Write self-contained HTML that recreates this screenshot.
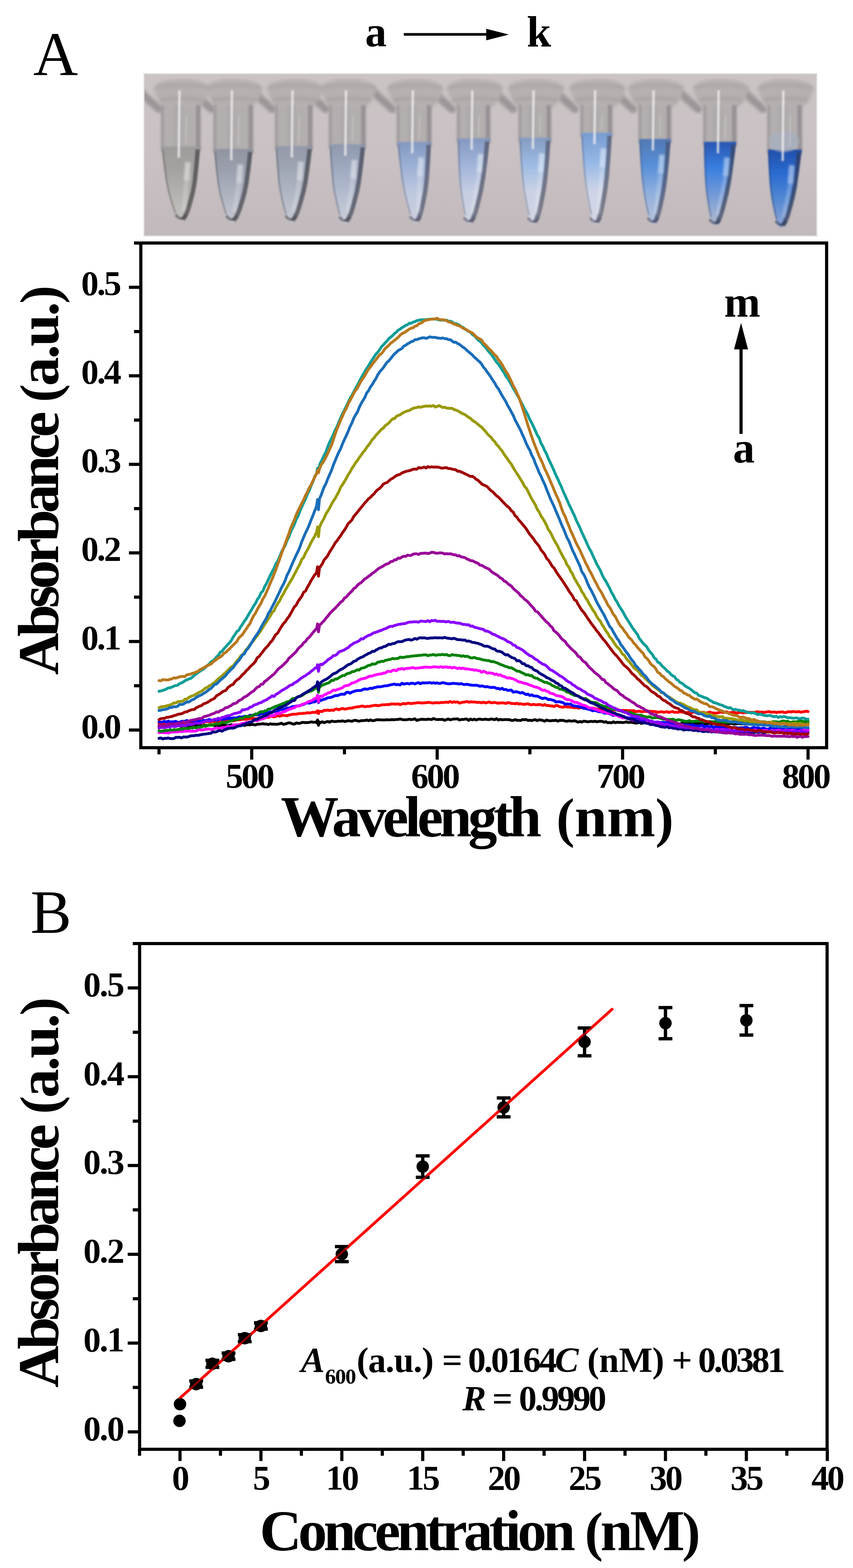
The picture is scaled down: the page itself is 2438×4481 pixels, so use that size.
<!DOCTYPE html>
<html><head><meta charset="utf-8"><title>Figure</title>
<style>html,body{margin:0;padding:0;background:#fff}svg{display:block}text{font-family:'Liberation Serif', serif}</style>
</head><body>
<svg width="2438" height="4481" viewBox="0 0 2438 4481">
<rect width="2438" height="4481" fill="#fff"/>
<defs>
<clipPath id="pc"><rect x="413" y="212" width="1920" height="461"/></clipPath>
<filter id="bl2" x="-20%" y="-20%" width="140%" height="140%"><feGaussianBlur stdDeviation="2"/></filter>
<filter id="bl3" x="-20%" y="-20%" width="140%" height="140%"><feGaussianBlur stdDeviation="3"/></filter>
<filter id="bl5" x="-30%" y="-30%" width="160%" height="160%"><feGaussianBlur stdDeviation="5"/></filter>
<filter id="bl8" x="-30%" y="-30%" width="160%" height="160%"><feGaussianBlur stdDeviation="8"/></filter>
<linearGradient id="pbg" x1="0" y1="0" x2="0" y2="1"><stop offset="0" stop-color="#cbc4c5"/><stop offset="0.5" stop-color="#c9c1c3"/><stop offset="1" stop-color="#c1b9bb"/></linearGradient>
<linearGradient id="lg0" x1="0" y1="0" x2="0" y2="1"><stop offset="0" stop-color="#9f9d9c"/><stop offset="0.3" stop-color="#a4a2a0"/><stop offset="0.62" stop-color="#b4b1af"/><stop offset="1" stop-color="#c5c2bf"/></linearGradient>
<linearGradient id="lg1" x1="0" y1="0" x2="0" y2="1"><stop offset="0" stop-color="#9295a2"/><stop offset="0.3" stop-color="#9ca1af"/><stop offset="0.62" stop-color="#aeb3c0"/><stop offset="1" stop-color="#c5c6cf"/></linearGradient>
<linearGradient id="lg2" x1="0" y1="0" x2="0" y2="1"><stop offset="0" stop-color="#949aa9"/><stop offset="0.3" stop-color="#9fa6b4"/><stop offset="0.62" stop-color="#b1b7c5"/><stop offset="1" stop-color="#c6c8d0"/></linearGradient>
<linearGradient id="lg3" x1="0" y1="0" x2="0" y2="1"><stop offset="0" stop-color="#909aaf"/><stop offset="0.3" stop-color="#9fa9c0"/><stop offset="0.62" stop-color="#b4bdcf"/><stop offset="1" stop-color="#cacdd7"/></linearGradient>
<linearGradient id="lg4" x1="0" y1="0" x2="0" y2="1"><stop offset="0" stop-color="#859ac2"/><stop offset="0.3" stop-color="#9db1d5"/><stop offset="0.62" stop-color="#bec8df"/><stop offset="1" stop-color="#cdd0df"/></linearGradient>
<linearGradient id="lg5" x1="0" y1="0" x2="0" y2="1"><stop offset="0" stop-color="#859ac2"/><stop offset="0.3" stop-color="#a1b4da"/><stop offset="0.62" stop-color="#c5cde2"/><stop offset="1" stop-color="#d0d4e1"/></linearGradient>
<linearGradient id="lg6" x1="0" y1="0" x2="0" y2="1"><stop offset="0" stop-color="#869dc2"/><stop offset="0.3" stop-color="#9dbbe4"/><stop offset="0.62" stop-color="#cbd2e4"/><stop offset="1" stop-color="#d2d4e2"/></linearGradient>
<linearGradient id="lg7" x1="0" y1="0" x2="0" y2="1"><stop offset="0" stop-color="#799dd2"/><stop offset="0.3" stop-color="#94b6e6"/><stop offset="0.62" stop-color="#cdd4e7"/><stop offset="1" stop-color="#d4d6e6"/></linearGradient>
<linearGradient id="lg8" x1="0" y1="0" x2="0" y2="1"><stop offset="0" stop-color="#5179b5"/><stop offset="0.3" stop-color="#578fd8"/><stop offset="0.62" stop-color="#8fafde"/><stop offset="1" stop-color="#bcc4da"/></linearGradient>
<linearGradient id="lg9" x1="0" y1="0" x2="0" y2="1"><stop offset="0" stop-color="#2a59b3"/><stop offset="0.3" stop-color="#397ee0"/><stop offset="0.62" stop-color="#739ad8"/><stop offset="1" stop-color="#b5bccf"/></linearGradient>
<linearGradient id="lg10" x1="0" y1="0" x2="0" y2="1"><stop offset="0" stop-color="#2251ab"/><stop offset="0.3" stop-color="#2a6bd1"/><stop offset="0.62" stop-color="#5188d3"/><stop offset="1" stop-color="#91a6d3"/></linearGradient>
</defs>
<rect x="411.5" y="210.5" width="1923" height="464" fill="none" stroke="#e3dfdf" stroke-width="3"/>
<g clip-path="url(#pc)">
<rect x="413" y="212" width="1920" height="461" fill="url(#pbg)"/>
<g filter="url(#bl5)" fill="none" stroke="#8f8a8b" stroke-linecap="round" opacity="0.8">
<path d="M399,262 L455,312" stroke-width="22"/>
<path d="M549,262 L605,312" stroke-width="22"/>
<path d="M722,262 L778,312" stroke-width="22"/>
<path d="M875,262 L931,312" stroke-width="22"/>
<path d="M1066,262 L1122,312" stroke-width="22"/>
<path d="M1236,262 L1292,312" stroke-width="22"/>
<path d="M1411,262 L1467,312" stroke-width="22"/>
<path d="M1587,262 L1643,312" stroke-width="22"/>
<path d="M1754,262 L1810,312" stroke-width="22"/>
<path d="M1940,262 L1996,312" stroke-width="22"/>
<path d="M2125,262 L2181,312" stroke-width="22"/>
</g>
<g filter="url(#bl5)">
<path d="M439,252 Q451,226 517,226 Q587,226 601,252 L589,284 L571,306 L463,306 L451,284 Z" fill="#b6b0af"/>
<path d="M443,250 Q517,238 597,250" fill="none" stroke="#a7a1a1" stroke-width="6"/>
<path d="M457,286 Q517,276 583,286" fill="none" stroke="#a39d9e" stroke-width="6"/>
<path d="M589,252 Q601,226 667,226 Q737,226 751,252 L739,284 L721,306 L613,306 L601,284 Z" fill="#b6b0af"/>
<path d="M593,250 Q667,238 747,250" fill="none" stroke="#a7a1a1" stroke-width="6"/>
<path d="M607,286 Q667,276 733,286" fill="none" stroke="#a39d9e" stroke-width="6"/>
<path d="M762,252 Q774,226 840,226 Q910,226 924,252 L912,284 L894,306 L786,306 L774,284 Z" fill="#b6b0af"/>
<path d="M766,250 Q840,238 920,250" fill="none" stroke="#a7a1a1" stroke-width="6"/>
<path d="M780,286 Q840,276 906,286" fill="none" stroke="#a39d9e" stroke-width="6"/>
<path d="M915,252 Q927,226 993,226 Q1063,226 1077,252 L1065,284 L1047,306 L939,306 L927,284 Z" fill="#b6b0af"/>
<path d="M919,250 Q993,238 1073,250" fill="none" stroke="#a7a1a1" stroke-width="6"/>
<path d="M933,286 Q993,276 1059,286" fill="none" stroke="#a39d9e" stroke-width="6"/>
<path d="M1106,252 Q1118,226 1184,226 Q1254,226 1268,252 L1256,284 L1238,306 L1130,306 L1118,284 Z" fill="#b6b0af"/>
<path d="M1110,250 Q1184,238 1264,250" fill="none" stroke="#a7a1a1" stroke-width="6"/>
<path d="M1124,286 Q1184,276 1250,286" fill="none" stroke="#a39d9e" stroke-width="6"/>
<path d="M1276,252 Q1288,226 1354,226 Q1424,226 1438,252 L1426,284 L1408,306 L1300,306 L1288,284 Z" fill="#b6b0af"/>
<path d="M1280,250 Q1354,238 1434,250" fill="none" stroke="#a7a1a1" stroke-width="6"/>
<path d="M1294,286 Q1354,276 1420,286" fill="none" stroke="#a39d9e" stroke-width="6"/>
<path d="M1451,252 Q1463,226 1529,226 Q1599,226 1613,252 L1601,284 L1583,306 L1475,306 L1463,284 Z" fill="#b6b0af"/>
<path d="M1455,250 Q1529,238 1609,250" fill="none" stroke="#a7a1a1" stroke-width="6"/>
<path d="M1469,286 Q1529,276 1595,286" fill="none" stroke="#a39d9e" stroke-width="6"/>
<path d="M1627,252 Q1639,226 1705,226 Q1775,226 1789,252 L1777,284 L1759,306 L1651,306 L1639,284 Z" fill="#b6b0af"/>
<path d="M1631,250 Q1705,238 1785,250" fill="none" stroke="#a7a1a1" stroke-width="6"/>
<path d="M1645,286 Q1705,276 1771,286" fill="none" stroke="#a39d9e" stroke-width="6"/>
<path d="M1794,252 Q1806,226 1872,226 Q1942,226 1956,252 L1944,284 L1926,306 L1818,306 L1806,284 Z" fill="#b6b0af"/>
<path d="M1798,250 Q1872,238 1952,250" fill="none" stroke="#a7a1a1" stroke-width="6"/>
<path d="M1812,286 Q1872,276 1938,286" fill="none" stroke="#a39d9e" stroke-width="6"/>
<path d="M1980,252 Q1992,226 2058,226 Q2128,226 2142,252 L2130,284 L2112,306 L2004,306 L1992,284 Z" fill="#b6b0af"/>
<path d="M1984,250 Q2058,238 2138,250" fill="none" stroke="#a7a1a1" stroke-width="6"/>
<path d="M1998,286 Q2058,276 2124,286" fill="none" stroke="#a39d9e" stroke-width="6"/>
<path d="M2165,252 Q2177,226 2243,226 Q2313,226 2327,252 L2315,284 L2297,306 L2189,306 L2177,284 Z" fill="#b6b0af"/>
<path d="M2169,250 Q2243,238 2323,250" fill="none" stroke="#a7a1a1" stroke-width="6"/>
<path d="M2183,286 Q2243,276 2309,286" fill="none" stroke="#a39d9e" stroke-width="6"/>
</g>
<g filter="url(#bl3)">
<rect x="460" y="300" width="114" height="131" fill="#b4afaf"/>
<rect x="460" y="300" width="8" height="131" fill="#8f8a8d" opacity="0.6"/>
<rect x="560" y="300" width="13" height="131" fill="#858087" opacity="0.65"/>
<rect x="497" y="300" width="26" height="131" fill="#aaa5a6" opacity="0.6"/>
<rect x="610" y="300" width="114" height="138" fill="#b4afaf"/>
<rect x="610" y="300" width="8" height="138" fill="#8f8a8d" opacity="0.6"/>
<rect x="710" y="300" width="13" height="138" fill="#858087" opacity="0.65"/>
<rect x="647" y="300" width="26" height="138" fill="#aaa5a6" opacity="0.6"/>
<rect x="786" y="300" width="108" height="130" fill="#b4afaf"/>
<rect x="786" y="300" width="8" height="130" fill="#8f8a8d" opacity="0.6"/>
<rect x="880" y="300" width="13" height="130" fill="#858087" opacity="0.65"/>
<rect x="820" y="300" width="26" height="130" fill="#aaa5a6" opacity="0.6"/>
<rect x="940" y="300" width="106" height="125" fill="#b4afaf"/>
<rect x="940" y="300" width="8" height="125" fill="#8f8a8d" opacity="0.6"/>
<rect x="1032" y="300" width="13" height="125" fill="#858087" opacity="0.65"/>
<rect x="973" y="300" width="26" height="125" fill="#aaa5a6" opacity="0.6"/>
<rect x="1134" y="300" width="100" height="118" fill="#b4afaf"/>
<rect x="1134" y="300" width="8" height="118" fill="#8f8a8d" opacity="0.6"/>
<rect x="1220" y="300" width="13" height="118" fill="#858087" opacity="0.65"/>
<rect x="1164" y="300" width="26" height="118" fill="#aaa5a6" opacity="0.6"/>
<rect x="1306" y="300" width="96" height="108" fill="#b4afaf"/>
<rect x="1306" y="300" width="8" height="108" fill="#8f8a8d" opacity="0.6"/>
<rect x="1388" y="300" width="13" height="108" fill="#858087" opacity="0.65"/>
<rect x="1334" y="300" width="26" height="108" fill="#aaa5a6" opacity="0.6"/>
<rect x="1482" y="300" width="94" height="106" fill="#b4afaf"/>
<rect x="1482" y="300" width="8" height="106" fill="#8f8a8d" opacity="0.6"/>
<rect x="1562" y="300" width="13" height="106" fill="#858087" opacity="0.65"/>
<rect x="1509" y="300" width="26" height="106" fill="#aaa5a6" opacity="0.6"/>
<rect x="1659" y="300" width="92" height="92" fill="#b4afaf"/>
<rect x="1659" y="300" width="8" height="92" fill="#8f8a8d" opacity="0.6"/>
<rect x="1737" y="300" width="13" height="92" fill="#858087" opacity="0.65"/>
<rect x="1685" y="300" width="26" height="92" fill="#aaa5a6" opacity="0.6"/>
<rect x="1825" y="300" width="94" height="110" fill="#b4afaf"/>
<rect x="1825" y="300" width="8" height="110" fill="#8f8a8d" opacity="0.6"/>
<rect x="1905" y="300" width="13" height="110" fill="#858087" opacity="0.65"/>
<rect x="1852" y="300" width="26" height="110" fill="#aaa5a6" opacity="0.6"/>
<rect x="2010" y="300" width="96" height="118" fill="#b4afaf"/>
<rect x="2010" y="300" width="8" height="118" fill="#8f8a8d" opacity="0.6"/>
<rect x="2092" y="300" width="13" height="118" fill="#858087" opacity="0.65"/>
<rect x="2038" y="300" width="26" height="118" fill="#aaa5a6" opacity="0.6"/>
<rect x="2193" y="300" width="100" height="140" fill="#b4afaf"/>
<rect x="2193" y="300" width="8" height="140" fill="#8f8a8d" opacity="0.6"/>
<rect x="2279" y="300" width="13" height="140" fill="#858087" opacity="0.65"/>
<rect x="2223" y="300" width="26" height="140" fill="#aaa5a6" opacity="0.6"/>
</g>
<g filter="url(#bl2)">
<path d="M572.0,421.0 L569.8,446.4 L566.5,474.0 L560.5,518.5 L554.4,548.2 L547.2,573.6 L540.6,594.8 L535.1,609.7 L529.1,622.4 L523.0,629.8 L517.0,633.0 L517.0,633.0 L510.9,629.8 L504.9,622.4 L498.9,609.7 L493.4,594.8 L486.8,573.6 L479.6,548.2 L473.6,518.5 L467.5,474.0 L464.2,446.4 L462.0,421.0 Z" fill="url(#lg0)"/>
<path d="M532,613 Q518,636 502,613" fill="none" stroke="#4a4849" stroke-width="8" opacity="0.6"/>
<path d="M565.0,421.0 L563.6,446.0 L561.2,473.0 L556.7,516.7 L551.6,545.8 L545.3,570.8 L539.4,591.6 L534.4,606.1 L528.8,618.6 L522.9,625.9 L522,628" fill="none" stroke="#4a4849" stroke-width="13" stroke-linejoin="round" opacity="0.75"/>
<path d="M465.0,421.0 L467.2,446.4 L470.5,474.0 L476.6,518.5 L482.6,548.2 L489.8,573.6 L496.4,594.8 L501.9,609.7" fill="none" stroke="#4a4849" stroke-width="4" opacity="0.45"/>
<rect x="462" y="418" width="110" height="9" fill="#9f9d9c" opacity="0.9"/>
<path d="M722.0,428.0 L719.2,453.0 L715.2,480.0 L708.2,523.7 L701.4,552.8 L693.6,577.8 L686.5,598.6 L680.7,613.1 L674.4,625.6 L668.1,632.9 L662.0,636.0 L662.0,636.0 L656.0,632.9 L650.1,625.6 L644.4,613.1 L639.2,598.6 L633.1,577.8 L626.6,552.8 L621.2,523.7 L616.2,480.0 L613.6,453.0 L612.0,428.0 Z" fill="url(#lg1)"/>
<path d="M677,616 Q663,639 647,616" fill="none" stroke="#484a52" stroke-width="8" opacity="0.6"/>
<path d="M715.0,428.0 L713.0,452.5 L710.0,479.0 L704.4,521.8 L698.6,550.4 L691.7,574.9 L685.3,595.3 L679.9,609.6 L674.0,621.8 L668.0,628.9 L667,631" fill="none" stroke="#484a52" stroke-width="13" stroke-linejoin="round" opacity="0.75"/>
<path d="M615.0,428.0 L616.6,453.0 L619.2,480.0 L624.2,523.7 L629.6,552.8 L636.1,577.8 L642.2,598.6 L647.4,613.1" fill="none" stroke="#484a52" stroke-width="4" opacity="0.45"/>
<rect x="612" y="425" width="110" height="9" fill="#9295a2" opacity="0.9"/>
<path d="M892.0,420.0 L888.8,445.9 L884.5,474.0 L876.9,519.4 L870.0,549.6 L862.1,575.5 L855.0,597.1 L849.1,612.2 L842.9,625.2 L836.9,632.8 L831.0,636.0 L831.0,636.0 L825.4,632.8 L820.0,625.2 L814.8,612.2 L810.3,597.1 L804.9,575.5 L799.2,549.6 L794.8,519.4 L791.0,474.0 L789.0,445.9 L788.0,420.0 Z" fill="url(#lg2)"/>
<path d="M846,616 Q832,639 816,616" fill="none" stroke="#484a52" stroke-width="8" opacity="0.6"/>
<path d="M885.0,420.0 L882.7,445.4 L879.3,473.0 L873.2,517.5 L867.2,547.2 L860.2,572.6 L853.7,593.8 L848.4,608.7 L842.5,621.4 L836.8,628.8 L836,631" fill="none" stroke="#484a52" stroke-width="13" stroke-linejoin="round" opacity="0.75"/>
<path d="M791.0,420.0 L792.0,445.9 L794.0,474.0 L797.8,519.4 L802.2,549.6 L807.9,575.5 L813.3,597.1 L817.8,612.2" fill="none" stroke="#484a52" stroke-width="4" opacity="0.45"/>
<rect x="788" y="417" width="104" height="9" fill="#949aa9" opacity="0.9"/>
<path d="M1044.0,415.0 L1041.0,441.9 L1036.9,471.0 L1029.6,518.0 L1022.9,549.4 L1015.3,576.3 L1008.4,598.7 L1002.7,614.4 L996.6,627.8 L990.7,635.6 L985.0,639.0 L985.0,639.0 L979.5,635.6 L974.2,627.8 L969.0,614.4 L964.5,598.7 L959.2,576.3 L953.5,549.4 L949.0,518.0 L945.1,471.0 L943.1,441.9 L942.0,415.0 Z" fill="url(#lg3)"/>
<path d="M1000,619 Q986,642 970,619" fill="none" stroke="#464a58" stroke-width="8" opacity="0.6"/>
<path d="M1037.0,415.0 L1034.8,441.4 L1031.7,470.0 L1025.8,516.2 L1020.1,547.0 L1013.3,573.4 L1007.1,595.4 L1001.9,610.8 L996.3,624.0 L990.6,631.7 L990,634" fill="none" stroke="#464a58" stroke-width="13" stroke-linejoin="round" opacity="0.75"/>
<path d="M945.0,415.0 L946.1,441.9 L948.1,471.0 L952.0,518.0 L956.5,549.4 L962.2,576.3 L967.5,598.7 L972.0,614.4" fill="none" stroke="#464a58" stroke-width="4" opacity="0.45"/>
<rect x="942" y="412" width="102" height="9" fill="#909aaf" opacity="0.9"/>
<path d="M1232.0,408.0 L1230.4,435.6 L1228.0,465.5 L1223.3,513.8 L1218.4,546.0 L1212.6,573.6 L1207.1,596.6 L1202.5,612.7 L1197.4,626.5 L1192.2,634.5 L1187.0,638.0 L1187.0,638.0 L1181.7,634.5 L1176.3,626.5 L1170.8,612.7 L1165.8,596.6 L1159.8,573.6 L1153.2,546.0 L1147.5,513.8 L1141.5,465.5 L1138.3,435.6 L1136.0,408.0 Z" fill="url(#lg4)"/>
<path d="M1202,618 Q1188,641 1172,618" fill="none" stroke="#52566a" stroke-width="8" opacity="0.6"/>
<path d="M1225.0,408.0 L1224.3,435.1 L1222.7,464.5 L1219.5,512.0 L1215.6,543.6 L1210.6,570.7 L1205.8,593.3 L1201.7,609.1 L1197.1,622.7 L1192.1,630.6 L1192,633" fill="none" stroke="#52566a" stroke-width="13" stroke-linejoin="round" opacity="0.75"/>
<path d="M1139.0,408.0 L1141.3,435.6 L1144.5,465.5 L1150.5,513.8 L1156.2,546.0 L1162.8,573.6 L1168.8,596.6 L1173.8,612.7" fill="none" stroke="#52566a" stroke-width="4" opacity="0.45"/>
<rect x="1136" y="405" width="96" height="9" fill="#859ac2" opacity="0.9"/>
<path d="M1400.0,398.0 L1396.6,427.2 L1392.2,458.8 L1384.4,509.8 L1377.5,543.8 L1369.9,573.0 L1363.1,597.3 L1357.6,614.3 L1351.8,628.9 L1346.3,637.4 L1341.0,641.0 L1341.0,641.0 L1336.1,637.4 L1331.5,628.9 L1327.2,614.3 L1323.6,597.3 L1319.3,573.0 L1314.9,543.8 L1311.7,509.8 L1309.3,458.8 L1308.3,427.2 L1308.0,398.0 Z" fill="url(#lg5)"/>
<path d="M1356,621 Q1342,644 1326,621" fill="none" stroke="#52566a" stroke-width="8" opacity="0.6"/>
<path d="M1393.0,398.0 L1390.4,426.7 L1386.9,457.8 L1380.6,507.9 L1374.7,541.4 L1368.0,570.1 L1361.9,594.0 L1356.8,610.7 L1351.4,625.1 L1346.1,633.4 L1346,636" fill="none" stroke="#52566a" stroke-width="13" stroke-linejoin="round" opacity="0.75"/>
<path d="M1311.0,398.0 L1311.3,427.2 L1312.3,458.8 L1314.7,509.8 L1317.9,543.8 L1322.3,573.0 L1326.6,597.3 L1330.2,614.3" fill="none" stroke="#52566a" stroke-width="4" opacity="0.45"/>
<rect x="1308" y="395" width="92" height="9" fill="#859ac2" opacity="0.9"/>
<path d="M1574.0,396.0 L1571.6,425.5 L1568.2,457.5 L1562.2,509.2 L1556.6,543.6 L1550.2,573.1 L1544.2,597.7 L1539.4,614.9 L1534.2,629.7 L1529.0,638.3 L1524.0,642.0 L1524.0,642.0 L1519.1,638.3 L1514.3,629.7 L1509.7,614.9 L1505.6,597.7 L1500.7,573.1 L1495.4,543.6 L1491.2,509.2 L1487.2,457.5 L1485.2,425.5 L1484.0,396.0 Z" fill="url(#lg6)"/>
<path d="M1539,622 Q1525,645 1509,622" fill="none" stroke="#565a6e" stroke-width="8" opacity="0.6"/>
<path d="M1567.0,396.0 L1565.4,425.0 L1563.0,456.5 L1558.5,507.3 L1553.8,541.2 L1548.2,570.2 L1543.0,594.4 L1538.6,611.4 L1533.8,625.9 L1528.9,634.4 L1529,637" fill="none" stroke="#565a6e" stroke-width="13" stroke-linejoin="round" opacity="0.75"/>
<path d="M1487.0,396.0 L1488.2,425.5 L1490.2,457.5 L1494.2,509.2 L1498.4,543.6 L1503.7,573.1 L1508.6,597.7 L1512.7,614.9" fill="none" stroke="#565a6e" stroke-width="4" opacity="0.45"/>
<rect x="1484" y="393" width="90" height="9" fill="#869dc2" opacity="0.9"/>
<path d="M1749.0,382.0 L1746.9,413.2 L1743.8,447.0 L1738.4,501.6 L1733.1,538.0 L1727.0,569.2 L1721.5,595.2 L1716.8,613.4 L1711.8,629.0 L1706.9,638.1 L1702.0,642.0 L1702.0,642.0 L1697.2,638.1 L1692.5,629.0 L1687.8,613.4 L1683.6,595.2 L1678.6,569.2 L1673.3,538.0 L1668.9,501.6 L1664.7,447.0 L1662.4,413.2 L1661.0,382.0 Z" fill="url(#lg7)"/>
<path d="M1717,622 Q1703,645 1687,622" fill="none" stroke="#565a6e" stroke-width="8" opacity="0.6"/>
<path d="M1742.0,382.0 L1740.7,412.7 L1738.6,446.0 L1734.6,499.8 L1730.3,535.6 L1725.1,566.3 L1720.2,591.9 L1716.1,609.8 L1711.5,625.2 L1706.8,634.2 L1707,637" fill="none" stroke="#565a6e" stroke-width="13" stroke-linejoin="round" opacity="0.75"/>
<path d="M1664.0,382.0 L1665.4,413.2 L1667.7,447.0 L1671.9,501.6 L1676.3,538.0 L1681.6,569.2 L1686.6,595.2 L1690.8,613.4" fill="none" stroke="#565a6e" stroke-width="4" opacity="0.45"/>
<rect x="1661" y="379" width="88" height="9" fill="#799dd2" opacity="0.9"/>
<path d="M1917.0,400.0 L1914.5,429.0 L1911.0,460.5 L1904.8,511.3 L1899.0,545.2 L1892.4,574.2 L1886.4,598.4 L1881.5,615.4 L1876.2,629.9 L1871.0,638.4 L1866.0,642.0 L1866.0,642.0 L1861.1,638.4 L1856.4,629.9 L1851.8,615.4 L1847.7,598.4 L1842.9,574.2 L1837.8,545.2 L1833.7,511.3 L1830.0,460.5 L1828.1,429.0 L1827.0,400.0 Z" fill="url(#lg8)"/>
<path d="M1881,622 Q1867,645 1851,622" fill="none" stroke="#485270" stroke-width="8" opacity="0.6"/>
<path d="M1910.0,400.0 L1908.3,428.6 L1905.8,459.5 L1901.0,509.5 L1896.2,542.8 L1890.5,571.4 L1885.2,595.2 L1880.7,611.8 L1875.9,626.1 L1870.9,634.4 L1871,637" fill="none" stroke="#485270" stroke-width="13" stroke-linejoin="round" opacity="0.75"/>
<path d="M1830.0,400.0 L1831.1,429.0 L1833.0,460.5 L1836.7,511.3 L1840.8,545.2 L1845.9,574.2 L1850.7,598.4 L1854.8,615.4" fill="none" stroke="#485270" stroke-width="4" opacity="0.45"/>
<rect x="1827" y="397" width="90" height="9" fill="#5179b5" opacity="0.9"/>
<path d="M2104.0,408.0 L2100.4,436.6 L2095.7,467.5 L2087.4,517.5 L2080.3,550.8 L2072.5,579.4 L2065.5,603.2 L2059.8,619.8 L2053.9,634.1 L2048.3,642.4 L2043.0,646.0 L2043.0,646.0 L2038.2,642.4 L2033.6,634.1 L2029.5,619.8 L2025.9,603.2 L2021.9,579.4 L2017.7,550.8 L2014.8,517.5 L2012.8,467.5 L2012.0,436.6 L2012.0,408.0 Z" fill="url(#lg9)"/>
<path d="M2058,626 Q2044,649 2028,626" fill="none" stroke="#3a4662" stroke-width="8" opacity="0.6"/>
<path d="M2097.0,408.0 L2094.2,436.1 L2090.4,466.5 L2083.7,515.6 L2077.5,548.4 L2070.5,576.5 L2064.2,599.9 L2059.1,616.3 L2053.5,630.3 L2048.2,638.5 L2048,641" fill="none" stroke="#3a4662" stroke-width="13" stroke-linejoin="round" opacity="0.75"/>
<path d="M2015.0,408.0 L2015.0,436.6 L2015.8,467.5 L2017.8,517.5 L2020.7,550.8 L2024.9,579.4 L2028.9,603.2 L2032.5,619.8" fill="none" stroke="#3a4662" stroke-width="4" opacity="0.45"/>
<rect x="2012" y="405" width="92" height="9" fill="#2a59b3" opacity="0.9"/>
<path d="M2291.0,430.0 L2287.8,456.5 L2283.4,485.2 L2275.9,531.7 L2269.0,562.6 L2261.5,589.1 L2254.6,611.2 L2249.1,626.7 L2243.1,640.0 L2237.4,647.7 L2232.0,651.0 L2232.0,651.0 L2226.9,647.7 L2222.0,640.0 L2217.4,626.7 L2213.3,611.2 L2208.7,589.1 L2203.8,562.6 L2200.0,531.7 L2197.1,485.2 L2195.6,456.5 L2195.0,430.0 Z" fill="url(#lg10)"/>
<path d="M2247,631 Q2233,654 2217,631" fill="none" stroke="#303c5e" stroke-width="8" opacity="0.6"/>
<path d="M2284.0,430.0 L2281.6,456.0 L2278.2,484.2 L2272.1,529.8 L2266.2,560.2 L2259.5,586.2 L2253.4,607.9 L2248.3,623.1 L2242.8,636.2 L2237.3,643.7 L2237,646" fill="none" stroke="#303c5e" stroke-width="13" stroke-linejoin="round" opacity="0.75"/>
<path d="M2198.0,430.0 L2198.6,456.5 L2200.1,485.2 L2203.0,531.7 L2206.8,562.6 L2211.7,589.1 L2216.3,611.2 L2220.4,626.7" fill="none" stroke="#303c5e" stroke-width="4" opacity="0.45"/>
<rect x="2195" y="427" width="96" height="9" fill="#2251ab" opacity="0.9"/>
</g>
<g filter="url(#bl3)"><ellipse cx="2240" cy="404" rx="44" ry="30" fill="#a8afbe" opacity="0.85"/></g>
<g filter="url(#bl3)">
<path d="M537,463 L533,516" stroke="#ffffff" stroke-width="16" opacity="0.45"/>
<path d="M533,516 L525,603" stroke="#ffffff" stroke-width="12" opacity="0.22"/>
<path d="M687,470 L683,523" stroke="#ffffff" stroke-width="16" opacity="0.45"/>
<path d="M683,523 L670,606" stroke="#ffffff" stroke-width="12" opacity="0.22"/>
<path d="M860,462 L856,515" stroke="#ffffff" stroke-width="16" opacity="0.45"/>
<path d="M856,515 L839,606" stroke="#ffffff" stroke-width="12" opacity="0.22"/>
<path d="M1013,457 L1009,510" stroke="#ffffff" stroke-width="16" opacity="0.45"/>
<path d="M1009,510 L993,609" stroke="#ffffff" stroke-width="12" opacity="0.22"/>
<path d="M1204,450 L1200,503" stroke="#ffffff" stroke-width="16" opacity="0.45"/>
<path d="M1200,503 L1195,608" stroke="#ffffff" stroke-width="12" opacity="0.22"/>
<path d="M1374,440 L1370,493" stroke="#ffffff" stroke-width="16" opacity="0.45"/>
<path d="M1370,493 L1349,611" stroke="#ffffff" stroke-width="12" opacity="0.22"/>
<path d="M1549,438 L1545,491" stroke="#ffffff" stroke-width="16" opacity="0.45"/>
<path d="M1545,491 L1532,612" stroke="#ffffff" stroke-width="12" opacity="0.22"/>
<path d="M1725,424 L1721,477" stroke="#ffffff" stroke-width="16" opacity="0.45"/>
<path d="M1721,477 L1710,612" stroke="#ffffff" stroke-width="12" opacity="0.22"/>
<path d="M1892,442 L1888,495" stroke="#ffffff" stroke-width="16" opacity="0.45"/>
<path d="M1888,495 L1874,612" stroke="#ffffff" stroke-width="12" opacity="0.22"/>
<path d="M2078,450 L2074,503" stroke="#ffffff" stroke-width="16" opacity="0.45"/>
<path d="M2074,503 L2051,616" stroke="#ffffff" stroke-width="12" opacity="0.22"/>
<path d="M2263,472 L2259,525" stroke="#ffffff" stroke-width="16" opacity="0.45"/>
<path d="M2259,525 L2240,621" stroke="#ffffff" stroke-width="12" opacity="0.22"/>
</g>
<g filter="url(#bl2)">
<path d="M513,258 L511,451" stroke="#f4f2f2" stroke-width="7" opacity="0.75"/>
<path d="M533,330 L531,409" stroke="#e4e0e0" stroke-width="4" opacity="0.3"/>
<path d="M663,258 L661,458" stroke="#f4f2f2" stroke-width="7" opacity="0.75"/>
<path d="M683,330 L681,416" stroke="#e4e0e0" stroke-width="4" opacity="0.3"/>
<path d="M836,258 L834,450" stroke="#f4f2f2" stroke-width="7" opacity="0.75"/>
<path d="M856,330 L854,408" stroke="#e4e0e0" stroke-width="4" opacity="0.3"/>
<path d="M989,258 L987,445" stroke="#f4f2f2" stroke-width="7" opacity="0.75"/>
<path d="M1009,330 L1007,403" stroke="#e4e0e0" stroke-width="4" opacity="0.3"/>
<path d="M1180,258 L1178,438" stroke="#f4f2f2" stroke-width="7" opacity="0.75"/>
<path d="M1200,330 L1198,396" stroke="#e4e0e0" stroke-width="4" opacity="0.3"/>
<path d="M1350,258 L1348,428" stroke="#f4f2f2" stroke-width="7" opacity="0.75"/>
<path d="M1370,330 L1368,386" stroke="#e4e0e0" stroke-width="4" opacity="0.3"/>
<path d="M1525,258 L1523,426" stroke="#f4f2f2" stroke-width="7" opacity="0.75"/>
<path d="M1545,330 L1543,384" stroke="#e4e0e0" stroke-width="4" opacity="0.3"/>
<path d="M1701,258 L1699,412" stroke="#f4f2f2" stroke-width="7" opacity="0.75"/>
<path d="M1721,330 L1719,370" stroke="#e4e0e0" stroke-width="4" opacity="0.3"/>
<path d="M1868,258 L1866,430" stroke="#f4f2f2" stroke-width="7" opacity="0.75"/>
<path d="M1888,330 L1886,388" stroke="#e4e0e0" stroke-width="4" opacity="0.3"/>
<path d="M2054,258 L2052,438" stroke="#f4f2f2" stroke-width="7" opacity="0.75"/>
<path d="M2074,330 L2072,396" stroke="#e4e0e0" stroke-width="4" opacity="0.3"/>
<path d="M2239,258 L2237,460" stroke="#f4f2f2" stroke-width="7" opacity="0.75"/>
<path d="M2259,330 L2257,418" stroke="#e4e0e0" stroke-width="4" opacity="0.3"/>
</g>
</g>
<g font-family="'Liberation Serif', serif" fill="#000">
<text x="95" y="214.8" font-size="177">A</text>
<text x="87" y="2665.5" font-size="176">B</text>
<text x="1043.5" y="132" font-size="123" font-weight="bold">a</text>
<text x="1505.5" y="132.5" font-size="125" font-weight="bold">k</text>
</g>
<path d="M1154,98.3 H1395" stroke="#000" stroke-width="7.5"/>
<path d="M1454.5,98.7 L1389.7,82.2 L1389.7,115.3 Z" fill="#000"/>
<g fill="none" stroke-width="8" stroke-linejoin="round" stroke-linecap="round">
<path d="M454.5,2075.1 L459.8,2074.2 L465.1,2075.0 L470.4,2075.0 L475.7,2075.6 L481.0,2074.8 L486.3,2073.4 L491.6,2074.1 L496.9,2073.4 L502.2,2074.2 L507.5,2074.0 L512.8,2074.1 L518.1,2076.1 L523.4,2073.3 L528.7,2073.6 L534.0,2073.6 L539.3,2075.9 L544.6,2075.9 L549.9,2074.9 L555.2,2074.4 L560.5,2073.5 L565.8,2073.8 L571.1,2073.1 L576.4,2074.3 L581.7,2073.2 L587.0,2073.0 L592.3,2074.1 L597.6,2071.5 L602.9,2072.6 L608.2,2071.8 L613.5,2073.7 L618.8,2073.7 L624.1,2073.2 L629.4,2072.9 L634.7,2072.0 L640.0,2072.3 L645.3,2072.9 L650.6,2073.4 L655.9,2072.8 L661.2,2070.8 L666.5,2072.9 L671.8,2071.6 L677.1,2071.3 L682.4,2073.2 L687.7,2071.5 L693.0,2070.0 L698.3,2073.4 L703.6,2071.5 L708.9,2071.1 L714.2,2071.7 L719.5,2070.2 L724.8,2070.6 L730.1,2071.9 L735.4,2069.4 L740.7,2069.4 L746.0,2068.9 L751.3,2068.2 L756.6,2069.2 L761.9,2069.3 L767.2,2070.6 L772.5,2068.4 L777.8,2069.6 L783.1,2069.2 L788.4,2069.9 L793.7,2069.4 L799.0,2068.7 L804.3,2066.6 L809.6,2070.0 L814.9,2069.2 L820.2,2067.2 L825.5,2065.7 L830.8,2066.4 L836.1,2068.8 L841.4,2069.3 L846.7,2066.0 L852.0,2067.0 L857.3,2067.2 L862.6,2064.8 L867.9,2064.4 L873.2,2065.2 L878.5,2064.9 L883.8,2064.5 L889.1,2063.0 L894.4,2063.9 L899.7,2063.8 L902.4,2063.6 L905.0,2065.8 L907.6,2057.3 L910.3,2072.7 L913.0,2063.2 L915.6,2065.8 L918.2,2064.2 L920.9,2062.6 L926.2,2065.2 L931.5,2063.2 L936.8,2061.8 L942.1,2064.0 L947.4,2060.7 L952.7,2061.6 L958.0,2062.2 L963.3,2061.5 L968.6,2060.9 L973.9,2061.3 L979.2,2060.0 L984.5,2061.7 L989.8,2061.3 L995.1,2059.5 L1000.4,2060.4 L1005.7,2061.2 L1011.0,2059.1 L1016.3,2058.3 L1021.6,2060.2 L1026.9,2061.0 L1032.2,2059.5 L1037.5,2059.3 L1042.8,2059.3 L1048.1,2057.4 L1053.4,2059.8 L1058.7,2057.2 L1064.0,2059.7 L1069.3,2059.1 L1074.6,2057.4 L1079.9,2056.8 L1085.2,2056.9 L1090.5,2057.3 L1095.8,2057.4 L1101.1,2057.3 L1106.4,2056.7 L1111.7,2057.4 L1117.0,2056.8 L1122.3,2056.4 L1127.6,2056.9 L1132.9,2056.0 L1138.2,2056.1 L1143.5,2054.5 L1148.8,2056.2 L1154.1,2057.0 L1159.4,2056.8 L1164.7,2056.4 L1170.0,2055.3 L1175.3,2056.6 L1180.6,2055.8 L1185.9,2054.2 L1191.2,2058.8 L1196.5,2057.2 L1201.8,2055.8 L1207.1,2055.6 L1212.4,2055.7 L1217.7,2056.4 L1223.0,2055.2 L1228.3,2055.6 L1233.6,2056.4 L1238.9,2053.2 L1244.2,2055.4 L1249.5,2056.4 L1254.8,2055.9 L1260.1,2056.0 L1265.4,2055.8 L1270.7,2058.6 L1276.0,2056.3 L1281.3,2054.7 L1286.6,2057.0 L1291.9,2055.8 L1297.2,2054.7 L1302.5,2054.8 L1307.8,2054.2 L1313.1,2057.6 L1318.4,2056.1 L1323.7,2056.1 L1329.0,2055.1 L1334.3,2054.7 L1339.6,2058.7 L1344.9,2054.7 L1350.2,2057.4 L1355.5,2055.2 L1360.8,2057.5 L1366.1,2055.8 L1371.4,2054.8 L1376.7,2056.2 L1382.0,2055.9 L1387.3,2055.3 L1392.6,2056.1 L1397.9,2056.4 L1403.2,2054.7 L1408.5,2055.3 L1413.8,2056.8 L1419.1,2053.6 L1424.4,2057.8 L1429.7,2055.7 L1435.0,2057.0 L1440.3,2056.7 L1445.6,2056.1 L1450.9,2056.7 L1456.2,2056.4 L1461.5,2058.7 L1466.8,2058.8 L1472.1,2056.6 L1477.4,2058.4 L1482.7,2058.6 L1488.0,2059.1 L1493.3,2056.3 L1498.6,2057.0 L1503.9,2056.3 L1509.2,2059.0 L1514.5,2058.1 L1519.8,2059.4 L1525.1,2057.5 L1530.4,2056.7 L1535.7,2059.5 L1541.0,2057.0 L1546.3,2057.7 L1551.6,2059.1 L1556.9,2061.1 L1562.2,2057.6 L1567.5,2059.4 L1572.8,2060.0 L1578.1,2059.1 L1583.4,2059.2 L1588.7,2058.2 L1594.0,2061.0 L1599.3,2058.8 L1604.6,2058.6 L1609.9,2058.7 L1615.2,2060.6 L1620.5,2061.3 L1625.8,2059.6 L1631.1,2060.7 L1636.4,2060.8 L1641.7,2059.6 L1647.0,2061.5 L1652.3,2063.8 L1657.6,2061.9 L1662.9,2063.6 L1668.2,2060.9 L1673.5,2061.5 L1678.8,2062.7 L1684.1,2062.2 L1689.4,2061.4 L1694.7,2062.3 L1700.0,2061.1 L1705.3,2062.7 L1710.6,2061.7 L1715.9,2061.3 L1721.2,2061.4 L1726.5,2063.9 L1731.8,2062.4 L1737.1,2065.4 L1742.4,2064.7 L1747.7,2065.8 L1753.0,2062.7 L1758.3,2065.3 L1763.6,2064.1 L1768.9,2064.4 L1774.2,2064.3 L1779.5,2065.1 L1784.8,2064.3 L1790.1,2062.8 L1795.4,2064.7 L1800.7,2064.3 L1806.0,2063.9 L1811.3,2065.3 L1816.6,2066.6 L1821.9,2065.9 L1827.2,2064.3 L1832.5,2067.3 L1837.8,2066.3 L1843.1,2064.7 L1848.4,2065.0 L1853.7,2065.9 L1859.0,2065.2 L1864.3,2065.9 L1869.6,2067.5 L1874.9,2068.0 L1880.2,2067.1 L1885.5,2065.5 L1890.8,2067.1 L1896.1,2067.6 L1901.4,2067.5 L1906.7,2068.4 L1912.0,2067.0 L1917.3,2068.2 L1922.6,2066.6 L1927.9,2069.6 L1933.2,2066.8 L1938.5,2067.9 L1943.8,2069.3 L1949.1,2066.6 L1954.4,2067.7 L1959.7,2069.8 L1965.0,2068.5 L1970.3,2067.3 L1975.6,2068.1 L1980.9,2066.9 L1986.2,2066.9 L1991.5,2067.1 L1996.8,2067.5 L2002.1,2066.5 L2007.4,2067.2 L2012.7,2067.5 L2018.0,2070.2 L2023.3,2067.1 L2028.6,2066.7 L2033.9,2068.4 L2039.2,2068.7 L2044.5,2066.1 L2049.8,2070.1 L2055.1,2067.8 L2060.4,2065.7 L2065.7,2069.3 L2071.0,2067.6 L2076.3,2066.4 L2081.6,2068.5 L2086.9,2067.8 L2092.2,2067.5 L2097.5,2069.4 L2102.8,2068.6 L2108.1,2068.2 L2113.4,2067.6 L2118.7,2068.6 L2124.0,2068.7 L2129.3,2069.6 L2134.6,2068.9 L2139.9,2067.6 L2145.2,2068.5 L2150.5,2069.5 L2155.8,2069.5 L2161.1,2065.8 L2166.4,2067.4 L2171.7,2067.9 L2177.0,2071.4 L2182.3,2068.0 L2187.6,2068.1 L2192.9,2066.8 L2198.2,2068.2 L2203.5,2068.7 L2208.8,2068.1 L2214.1,2070.7 L2219.4,2067.5 L2224.7,2068.3 L2230.0,2069.4 L2235.3,2067.2 L2240.6,2066.7 L2245.9,2070.1 L2251.2,2069.3 L2256.5,2068.3 L2261.8,2068.4 L2267.1,2069.0 L2272.4,2069.6 L2277.7,2066.3 L2283.0,2067.4 L2288.3,2069.8 L2293.6,2069.9 L2298.9,2066.7 L2304.2,2067.4 L2309.5,2066.6" stroke="#000000"/>
<path d="M454.5,2067.6 L459.8,2069.3 L465.1,2067.9 L470.4,2070.3 L475.7,2068.6 L481.0,2067.7 L486.3,2066.9 L491.6,2068.1 L496.9,2067.3 L502.2,2066.5 L507.5,2066.4 L512.8,2065.9 L518.1,2066.2 L523.4,2066.5 L528.7,2065.1 L534.0,2065.7 L539.3,2066.4 L544.6,2066.0 L549.9,2065.1 L555.2,2065.0 L560.5,2064.5 L565.8,2064.4 L571.1,2064.0 L576.4,2064.0 L581.7,2065.0 L587.0,2062.9 L592.3,2062.0 L597.6,2062.4 L602.9,2062.8 L608.2,2061.8 L613.5,2063.0 L618.8,2063.7 L624.1,2061.3 L629.4,2062.0 L634.7,2059.9 L640.0,2061.5 L645.3,2062.8 L650.6,2060.8 L655.9,2057.6 L661.2,2059.3 L666.5,2060.0 L671.8,2059.0 L677.1,2057.2 L682.4,2056.9 L687.7,2056.8 L693.0,2055.0 L698.3,2055.4 L703.6,2055.7 L708.9,2054.7 L714.2,2053.1 L719.5,2053.3 L724.8,2052.8 L730.1,2054.6 L735.4,2053.1 L740.7,2051.7 L746.0,2052.3 L751.3,2050.3 L756.6,2050.3 L761.9,2049.5 L767.2,2050.1 L772.5,2046.7 L777.8,2047.5 L783.1,2048.5 L788.4,2047.6 L793.7,2044.4 L799.0,2046.9 L804.3,2045.1 L809.6,2044.4 L814.9,2044.8 L820.2,2045.5 L825.5,2043.4 L830.8,2042.6 L836.1,2041.2 L841.4,2041.0 L846.7,2041.1 L852.0,2039.6 L857.3,2039.3 L862.6,2039.1 L867.9,2038.6 L873.2,2038.3 L878.5,2036.6 L883.8,2037.8 L889.1,2036.7 L894.4,2035.4 L899.7,2036.3 L902.4,2034.9 L905.0,2036.3 L907.6,2031.0 L910.3,2039.5 L913.0,2032.6 L915.6,2032.9 L918.2,2032.8 L920.9,2033.7 L926.2,2029.6 L931.5,2030.4 L936.8,2029.1 L942.1,2030.6 L947.4,2029.2 L952.7,2030.3 L958.0,2026.9 L963.3,2026.1 L968.6,2028.5 L973.9,2025.9 L979.2,2024.6 L984.5,2026.5 L989.8,2026.0 L995.1,2024.6 L1000.4,2023.6 L1005.7,2023.8 L1011.0,2021.7 L1016.3,2020.9 L1021.6,2020.0 L1026.9,2019.4 L1032.2,2018.0 L1037.5,2017.8 L1042.8,2019.9 L1048.1,2018.6 L1053.4,2018.7 L1058.7,2018.2 L1064.0,2016.7 L1069.3,2016.1 L1074.6,2015.2 L1079.9,2016.9 L1085.2,2016.1 L1090.5,2014.4 L1095.8,2014.2 L1101.1,2014.0 L1106.4,2013.3 L1111.7,2013.7 L1117.0,2011.8 L1122.3,2011.8 L1127.6,2012.0 L1132.9,2012.3 L1138.2,2011.4 L1143.5,2013.9 L1148.8,2011.7 L1154.1,2010.4 L1159.4,2011.8 L1164.7,2009.7 L1170.0,2009.6 L1175.3,2011.0 L1180.6,2009.6 L1185.9,2009.4 L1191.2,2008.4 L1196.5,2008.1 L1201.8,2008.6 L1207.1,2009.3 L1212.4,2008.4 L1217.7,2008.2 L1223.0,2007.3 L1228.3,2007.6 L1233.6,2008.6 L1238.9,2009.2 L1244.2,2008.0 L1249.5,2008.3 L1254.8,2008.6 L1260.1,2007.5 L1265.4,2007.8 L1270.7,2007.1 L1276.0,2006.6 L1281.3,2007.5 L1286.6,2004.6 L1291.9,2007.3 L1297.2,2005.8 L1302.5,2006.8 L1307.8,2005.7 L1313.1,2009.4 L1318.4,2007.7 L1323.7,2006.7 L1329.0,2006.3 L1334.3,2004.5 L1339.6,2006.7 L1344.9,2005.7 L1350.2,2006.3 L1355.5,2006.2 L1360.8,2006.7 L1366.1,2007.5 L1371.4,2006.9 L1376.7,2008.7 L1382.0,2006.4 L1387.3,2008.9 L1392.6,2007.6 L1397.9,2005.8 L1403.2,2008.4 L1408.5,2008.3 L1413.8,2007.3 L1419.1,2008.7 L1424.4,2009.7 L1429.7,2008.8 L1435.0,2008.6 L1440.3,2008.7 L1445.6,2010.5 L1450.9,2008.1 L1456.2,2008.4 L1461.5,2010.4 L1466.8,2010.4 L1472.1,2011.4 L1477.4,2009.7 L1482.7,2012.2 L1488.0,2011.0 L1493.3,2012.5 L1498.6,2013.0 L1503.9,2011.8 L1509.2,2011.5 L1514.5,2013.2 L1519.8,2014.2 L1525.1,2012.9 L1530.4,2014.2 L1535.7,2014.1 L1541.0,2013.2 L1546.3,2013.9 L1551.6,2016.0 L1556.9,2013.4 L1562.2,2016.2 L1567.5,2015.7 L1572.8,2017.5 L1578.1,2017.3 L1583.4,2019.4 L1588.7,2016.0 L1594.0,2016.8 L1599.3,2019.9 L1604.6,2020.6 L1609.9,2021.1 L1615.2,2018.5 L1620.5,2020.6 L1625.8,2020.5 L1631.1,2021.2 L1636.4,2021.3 L1641.7,2022.7 L1647.0,2021.9 L1652.3,2023.8 L1657.6,2022.7 L1662.9,2022.7 L1668.2,2022.9 L1673.5,2024.0 L1678.8,2025.0 L1684.1,2024.3 L1689.4,2025.3 L1694.7,2023.5 L1700.0,2024.6 L1705.3,2025.9 L1710.6,2026.6 L1715.9,2027.2 L1721.2,2027.8 L1726.5,2027.5 L1731.8,2027.1 L1737.1,2027.2 L1742.4,2027.5 L1747.7,2026.1 L1753.0,2029.4 L1758.3,2028.9 L1763.6,2026.3 L1768.9,2031.5 L1774.2,2030.4 L1779.5,2029.9 L1784.8,2030.2 L1790.1,2030.2 L1795.4,2031.1 L1800.7,2030.7 L1806.0,2031.3 L1811.3,2030.8 L1816.6,2033.9 L1821.9,2033.0 L1827.2,2032.3 L1832.5,2033.6 L1837.8,2033.8 L1843.1,2032.3 L1848.4,2033.8 L1853.7,2032.6 L1859.0,2032.7 L1864.3,2033.3 L1869.6,2033.3 L1874.9,2034.1 L1880.2,2035.7 L1885.5,2034.4 L1890.8,2034.0 L1896.1,2035.2 L1901.4,2034.9 L1906.7,2034.1 L1912.0,2035.9 L1917.3,2034.4 L1922.6,2033.3 L1927.9,2035.9 L1933.2,2035.3 L1938.5,2035.7 L1943.8,2034.0 L1949.1,2035.4 L1954.4,2034.8 L1959.7,2036.6 L1965.0,2035.9 L1970.3,2036.0 L1975.6,2037.9 L1980.9,2034.6 L1986.2,2035.2 L1991.5,2038.0 L1996.8,2035.4 L2002.1,2036.4 L2007.4,2035.8 L2012.7,2035.9 L2018.0,2037.9 L2023.3,2036.6 L2028.6,2034.8 L2033.9,2037.0 L2039.2,2037.5 L2044.5,2037.8 L2049.8,2037.7 L2055.1,2036.0 L2060.4,2034.6 L2065.7,2035.9 L2071.0,2036.1 L2076.3,2033.9 L2081.6,2036.8 L2086.9,2037.0 L2092.2,2035.7 L2097.5,2035.6 L2102.8,2037.2 L2108.1,2037.4 L2113.4,2035.8 L2118.7,2035.8 L2124.0,2037.4 L2129.3,2036.1 L2134.6,2036.5 L2139.9,2035.3 L2145.2,2035.9 L2150.5,2035.8 L2155.8,2036.0 L2161.1,2034.5 L2166.4,2034.0 L2171.7,2035.9 L2177.0,2034.5 L2182.3,2036.1 L2187.6,2035.2 L2192.9,2034.4 L2198.2,2033.5 L2203.5,2035.4 L2208.8,2035.0 L2214.1,2034.7 L2219.4,2036.4 L2224.7,2034.7 L2230.0,2035.4 L2235.3,2034.2 L2240.6,2035.7 L2245.9,2036.5 L2251.2,2034.3 L2256.5,2033.9 L2261.8,2034.7 L2267.1,2033.1 L2272.4,2034.2 L2277.7,2034.5 L2283.0,2033.3 L2288.3,2035.4 L2293.6,2034.3 L2298.9,2033.5 L2304.2,2032.5 L2309.5,2033.5" stroke="#ff0000"/>
<path d="M454.5,2063.1 L459.8,2064.1 L465.1,2063.0 L470.4,2061.5 L475.7,2063.9 L481.0,2060.5 L486.3,2063.6 L491.6,2062.8 L496.9,2062.6 L502.2,2061.5 L507.5,2063.8 L512.8,2064.6 L518.1,2061.6 L523.4,2061.2 L528.7,2061.2 L534.0,2058.9 L539.3,2061.3 L544.6,2061.0 L549.9,2060.1 L555.2,2060.4 L560.5,2058.8 L565.8,2061.6 L571.1,2060.4 L576.4,2063.4 L581.7,2058.6 L587.0,2059.5 L592.3,2057.8 L597.6,2056.1 L602.9,2058.1 L608.2,2057.9 L613.5,2057.8 L618.8,2057.7 L624.1,2057.1 L629.4,2055.3 L634.7,2055.4 L640.0,2054.9 L645.3,2054.6 L650.6,2052.9 L655.9,2052.8 L661.2,2052.9 L666.5,2051.4 L671.8,2051.7 L677.1,2052.1 L682.4,2048.7 L687.7,2049.0 L693.0,2049.8 L698.3,2046.9 L703.6,2046.9 L708.9,2048.2 L714.2,2044.0 L719.5,2044.5 L724.8,2043.1 L730.1,2043.0 L735.4,2042.4 L740.7,2043.0 L746.0,2039.4 L751.3,2039.4 L756.6,2038.8 L761.9,2037.1 L767.2,2036.3 L772.5,2034.6 L777.8,2034.7 L783.1,2033.2 L788.4,2034.3 L793.7,2031.4 L799.0,2029.0 L804.3,2027.2 L809.6,2027.8 L814.9,2026.3 L820.2,2023.2 L825.5,2024.0 L830.8,2021.6 L836.1,2019.3 L841.4,2019.8 L846.7,2017.2 L852.0,2018.0 L857.3,2015.6 L862.6,2014.6 L867.9,2013.0 L873.2,2010.6 L878.5,2007.9 L883.8,2009.7 L889.1,2008.2 L894.4,2005.7 L899.7,2006.0 L902.4,2003.6 L905.0,2002.8 L907.6,1999.5 L910.3,2008.0 L913.0,2003.0 L915.6,1999.8 L918.2,2001.6 L920.9,2000.0 L926.2,1998.4 L931.5,1996.8 L936.8,1994.1 L942.1,1993.5 L947.4,1992.6 L952.7,1990.3 L958.0,1987.8 L963.3,1988.1 L968.6,1986.4 L973.9,1984.1 L979.2,1983.8 L984.5,1984.2 L989.8,1978.8 L995.1,1977.9 L1000.4,1981.1 L1005.7,1977.8 L1011.0,1976.1 L1016.3,1974.3 L1021.6,1973.4 L1026.9,1973.3 L1032.2,1973.0 L1037.5,1970.6 L1042.8,1968.6 L1048.1,1969.8 L1053.4,1968.7 L1058.7,1966.6 L1064.0,1967.7 L1069.3,1965.0 L1074.6,1964.3 L1079.9,1962.4 L1085.2,1962.8 L1090.5,1962.2 L1095.8,1960.9 L1101.1,1959.8 L1106.4,1959.8 L1111.7,1958.4 L1117.0,1956.9 L1122.3,1955.9 L1127.6,1954.8 L1132.9,1956.9 L1138.2,1956.0 L1143.5,1957.7 L1148.8,1952.6 L1154.1,1955.0 L1159.4,1953.9 L1164.7,1953.0 L1170.0,1954.7 L1175.3,1952.5 L1180.6,1952.8 L1185.9,1954.5 L1191.2,1952.1 L1196.5,1951.0 L1201.8,1954.1 L1207.1,1951.2 L1212.4,1951.8 L1217.7,1951.5 L1223.0,1951.5 L1228.3,1950.6 L1233.6,1952.3 L1238.9,1951.2 L1244.2,1952.6 L1249.5,1951.5 L1254.8,1953.2 L1260.1,1952.6 L1265.4,1950.7 L1270.7,1952.2 L1276.0,1953.1 L1281.3,1954.3 L1286.6,1954.1 L1291.9,1953.3 L1297.2,1952.8 L1302.5,1953.6 L1307.8,1953.8 L1313.1,1954.7 L1318.4,1953.6 L1323.7,1955.8 L1329.0,1956.4 L1334.3,1955.3 L1339.6,1956.7 L1344.9,1957.5 L1350.2,1958.3 L1355.5,1958.5 L1360.8,1958.2 L1366.1,1959.0 L1371.4,1961.3 L1376.7,1960.2 L1382.0,1961.2 L1387.3,1963.1 L1392.6,1962.0 L1397.9,1963.8 L1403.2,1964.7 L1408.5,1964.3 L1413.8,1964.5 L1419.1,1967.5 L1424.4,1967.2 L1429.7,1969.5 L1435.0,1967.0 L1440.3,1970.9 L1445.6,1970.1 L1450.9,1973.1 L1456.2,1972.5 L1461.5,1972.0 L1466.8,1978.2 L1472.1,1977.0 L1477.4,1977.1 L1482.7,1978.8 L1488.0,1980.6 L1493.3,1978.7 L1498.6,1982.1 L1503.9,1985.1 L1509.2,1983.6 L1514.5,1987.6 L1519.8,1985.7 L1525.1,1988.8 L1530.4,1989.3 L1535.7,1989.3 L1541.0,1991.8 L1546.3,1994.7 L1551.6,1996.3 L1556.9,1994.5 L1562.2,1996.3 L1567.5,1999.3 L1572.8,1998.8 L1578.1,2000.5 L1583.4,2001.7 L1588.7,2006.1 L1594.0,2005.3 L1599.3,2005.4 L1604.6,2006.9 L1609.9,2008.1 L1615.2,2012.9 L1620.5,2011.5 L1625.8,2012.4 L1631.1,2011.6 L1636.4,2016.6 L1641.7,2017.3 L1647.0,2018.2 L1652.3,2018.6 L1657.6,2021.3 L1662.9,2020.9 L1668.2,2024.3 L1673.5,2024.4 L1678.8,2026.5 L1684.1,2027.0 L1689.4,2029.2 L1694.7,2031.4 L1700.0,2029.7 L1705.3,2031.8 L1710.6,2033.9 L1715.9,2034.3 L1721.2,2034.6 L1726.5,2037.9 L1731.8,2038.1 L1737.1,2038.5 L1742.4,2039.7 L1747.7,2041.7 L1753.0,2044.7 L1758.3,2042.2 L1763.6,2044.2 L1768.9,2045.6 L1774.2,2046.9 L1779.5,2047.3 L1784.8,2049.0 L1790.1,2050.7 L1795.4,2051.3 L1800.7,2052.1 L1806.0,2053.0 L1811.3,2054.5 L1816.6,2053.5 L1821.9,2056.4 L1827.2,2055.2 L1832.5,2057.8 L1837.8,2057.1 L1843.1,2056.9 L1848.4,2058.9 L1853.7,2060.6 L1859.0,2060.5 L1864.3,2061.2 L1869.6,2063.9 L1874.9,2063.4 L1880.2,2063.2 L1885.5,2064.6 L1890.8,2064.6 L1896.1,2064.5 L1901.4,2065.1 L1906.7,2065.6 L1912.0,2066.5 L1917.3,2068.0 L1922.6,2068.2 L1927.9,2069.0 L1933.2,2069.6 L1938.5,2069.9 L1943.8,2072.1 L1949.1,2071.1 L1954.4,2071.2 L1959.7,2072.6 L1965.0,2072.1 L1970.3,2071.9 L1975.6,2073.0 L1980.9,2071.1 L1986.2,2076.4 L1991.5,2074.2 L1996.8,2076.3 L2002.1,2073.7 L2007.4,2072.2 L2012.7,2078.0 L2018.0,2075.6 L2023.3,2075.4 L2028.6,2076.6 L2033.9,2076.0 L2039.2,2079.2 L2044.5,2076.2 L2049.8,2077.0 L2055.1,2077.6 L2060.4,2078.5 L2065.7,2077.4 L2071.0,2078.8 L2076.3,2078.3 L2081.6,2079.3 L2086.9,2081.3 L2092.2,2079.2 L2097.5,2079.1 L2102.8,2078.7 L2108.1,2080.6 L2113.4,2079.9 L2118.7,2079.4 L2124.0,2080.0 L2129.3,2079.0 L2134.6,2078.4 L2139.9,2081.6 L2145.2,2082.8 L2150.5,2080.0 L2155.8,2079.4 L2161.1,2080.2 L2166.4,2080.4 L2171.7,2082.1 L2177.0,2082.3 L2182.3,2080.7 L2187.6,2082.7 L2192.9,2083.8 L2198.2,2083.0 L2203.5,2079.4 L2208.8,2080.1 L2214.1,2083.0 L2219.4,2083.1 L2224.7,2082.2 L2230.0,2083.3 L2235.3,2081.2 L2240.6,2082.8 L2245.9,2083.9 L2251.2,2081.5 L2256.5,2083.6 L2261.8,2082.8 L2267.1,2083.1 L2272.4,2083.5 L2277.7,2082.9 L2283.0,2084.1 L2288.3,2085.4 L2293.6,2085.8 L2298.9,2084.9 L2304.2,2084.4 L2309.5,2083.7" stroke="#0000ff"/>
<path d="M454.5,2093.7 L459.8,2093.0 L465.1,2093.3 L470.4,2094.1 L475.7,2093.8 L481.0,2095.1 L486.3,2092.8 L491.6,2091.9 L496.9,2091.6 L502.2,2092.0 L507.5,2091.8 L512.8,2090.4 L518.1,2091.0 L523.4,2089.9 L528.7,2089.8 L534.0,2089.8 L539.3,2088.3 L544.6,2089.9 L549.9,2089.3 L555.2,2089.4 L560.5,2088.9 L565.8,2085.9 L571.1,2085.2 L576.4,2086.6 L581.7,2085.5 L587.0,2084.3 L592.3,2084.1 L597.6,2083.1 L602.9,2085.1 L608.2,2083.8 L613.5,2082.0 L618.8,2080.2 L624.1,2080.9 L629.4,2081.2 L634.7,2079.8 L640.0,2079.3 L645.3,2078.7 L650.6,2075.3 L655.9,2076.7 L661.2,2075.0 L666.5,2071.8 L671.8,2071.8 L677.1,2071.6 L682.4,2071.6 L687.7,2069.4 L693.0,2066.9 L698.3,2066.8 L703.6,2064.9 L708.9,2064.9 L714.2,2063.1 L719.5,2062.6 L724.8,2060.5 L730.1,2058.2 L735.4,2059.7 L740.7,2056.7 L746.0,2054.9 L751.3,2054.2 L756.6,2052.3 L761.9,2049.5 L767.2,2046.6 L772.5,2046.3 L777.8,2044.9 L783.1,2045.1 L788.4,2039.6 L793.7,2039.8 L799.0,2038.0 L804.3,2037.2 L809.6,2034.2 L814.9,2033.3 L820.2,2030.1 L825.5,2027.6 L830.8,2026.0 L836.1,2023.7 L841.4,2022.8 L846.7,2018.2 L852.0,2018.3 L857.3,2017.3 L862.6,2013.4 L867.9,2011.8 L873.2,2009.8 L878.5,2006.9 L883.8,2003.9 L889.1,2003.2 L894.4,1999.8 L899.7,1995.9 L902.4,1995.5 L905.0,1995.2 L907.6,1986.7 L910.3,2006.0 L913.0,1991.6 L915.6,1989.7 L918.2,1989.4 L920.9,1990.7 L926.2,1985.8 L931.5,1984.4 L936.8,1980.5 L942.1,1979.5 L947.4,1976.4 L952.7,1972.0 L958.0,1973.1 L963.3,1970.9 L968.6,1969.0 L973.9,1967.8 L979.2,1965.0 L984.5,1960.5 L989.8,1959.4 L995.1,1958.5 L1000.4,1956.0 L1005.7,1951.7 L1011.0,1951.1 L1016.3,1948.7 L1021.6,1945.9 L1026.9,1942.9 L1032.2,1940.4 L1037.5,1939.5 L1042.8,1938.6 L1048.1,1936.7 L1053.4,1933.3 L1058.7,1932.0 L1064.0,1932.2 L1069.3,1929.7 L1074.6,1928.4 L1079.9,1927.1 L1085.2,1926.2 L1090.5,1925.7 L1095.8,1923.5 L1101.1,1923.3 L1106.4,1919.1 L1111.7,1918.6 L1117.0,1919.4 L1122.3,1915.5 L1127.6,1915.0 L1132.9,1917.0 L1138.2,1912.1 L1143.5,1912.4 L1148.8,1910.2 L1154.1,1913.0 L1159.4,1910.4 L1164.7,1909.9 L1170.0,1909.6 L1175.3,1909.1 L1180.6,1907.6 L1185.9,1909.9 L1191.2,1909.3 L1196.5,1909.1 L1201.8,1907.9 L1207.1,1907.8 L1212.4,1906.5 L1217.7,1906.5 L1223.0,1906.6 L1228.3,1907.3 L1233.6,1907.0 L1238.9,1905.5 L1244.2,1905.7 L1249.5,1906.4 L1254.8,1906.9 L1260.1,1905.0 L1265.4,1907.4 L1270.7,1906.2 L1276.0,1905.9 L1281.3,1907.6 L1286.6,1906.7 L1291.9,1909.0 L1297.2,1907.1 L1302.5,1908.3 L1307.8,1910.6 L1313.1,1908.7 L1318.4,1910.9 L1323.7,1909.1 L1329.0,1911.8 L1334.3,1911.8 L1339.6,1912.0 L1344.9,1913.4 L1350.2,1913.6 L1355.5,1915.2 L1360.8,1914.8 L1366.1,1916.4 L1371.4,1917.1 L1376.7,1921.3 L1382.0,1918.1 L1387.3,1920.4 L1392.6,1923.5 L1397.9,1922.7 L1403.2,1923.5 L1408.5,1924.1 L1413.8,1927.7 L1419.1,1926.2 L1424.4,1929.4 L1429.7,1928.1 L1435.0,1932.2 L1440.3,1932.8 L1445.6,1935.5 L1450.9,1937.8 L1456.2,1937.1 L1461.5,1938.9 L1466.8,1939.9 L1472.1,1942.3 L1477.4,1945.6 L1482.7,1948.5 L1488.0,1949.2 L1493.3,1951.0 L1498.6,1953.0 L1503.9,1953.4 L1509.2,1955.5 L1514.5,1958.0 L1519.8,1959.5 L1525.1,1961.8 L1530.4,1963.3 L1535.7,1964.7 L1541.0,1966.5 L1546.3,1970.2 L1551.6,1973.1 L1556.9,1972.0 L1562.2,1975.4 L1567.5,1976.4 L1572.8,1981.4 L1578.1,1982.0 L1583.4,1983.7 L1588.7,1987.3 L1594.0,1988.4 L1599.3,1989.1 L1604.6,1990.7 L1609.9,1992.2 L1615.2,1996.9 L1620.5,1999.5 L1625.8,1999.4 L1631.1,2001.0 L1636.4,2003.8 L1641.7,2007.4 L1647.0,2007.1 L1652.3,2009.1 L1657.6,2011.3 L1662.9,2014.3 L1668.2,2015.4 L1673.5,2016.7 L1678.8,2020.0 L1684.1,2023.3 L1689.4,2022.8 L1694.7,2024.4 L1700.0,2026.7 L1705.3,2027.5 L1710.6,2030.8 L1715.9,2032.0 L1721.2,2033.9 L1726.5,2034.7 L1731.8,2035.2 L1737.1,2038.8 L1742.4,2037.9 L1747.7,2040.0 L1753.0,2042.3 L1758.3,2044.0 L1763.6,2044.3 L1768.9,2047.8 L1774.2,2049.1 L1779.5,2051.5 L1784.8,2051.2 L1790.1,2051.6 L1795.4,2053.7 L1800.7,2055.1 L1806.0,2057.0 L1811.3,2057.8 L1816.6,2060.7 L1821.9,2059.2 L1827.2,2061.8 L1832.5,2063.7 L1837.8,2064.3 L1843.1,2065.4 L1848.4,2064.6 L1853.7,2065.4 L1859.0,2068.9 L1864.3,2067.4 L1869.6,2068.3 L1874.9,2070.7 L1880.2,2072.5 L1885.5,2072.5 L1890.8,2073.2 L1896.1,2072.9 L1901.4,2074.3 L1906.7,2076.8 L1912.0,2075.1 L1917.3,2077.6 L1922.6,2075.6 L1927.9,2078.5 L1933.2,2078.5 L1938.5,2079.2 L1943.8,2079.4 L1949.1,2078.0 L1954.4,2079.0 L1959.7,2079.7 L1965.0,2080.5 L1970.3,2082.9 L1975.6,2082.2 L1980.9,2082.7 L1986.2,2083.5 L1991.5,2082.3 L1996.8,2084.0 L2002.1,2084.3 L2007.4,2084.9 L2012.7,2086.3 L2018.0,2083.8 L2023.3,2083.3 L2028.6,2084.8 L2033.9,2086.2 L2039.2,2088.3 L2044.5,2085.5 L2049.8,2084.6 L2055.1,2085.8 L2060.4,2085.3 L2065.7,2084.9 L2071.0,2085.4 L2076.3,2087.3 L2081.6,2085.8 L2086.9,2086.3 L2092.2,2088.9 L2097.5,2087.8 L2102.8,2089.0 L2108.1,2087.7 L2113.4,2087.1 L2118.7,2088.9 L2124.0,2090.1 L2129.3,2086.6 L2134.6,2087.6 L2139.9,2086.5 L2145.2,2089.6 L2150.5,2087.1 L2155.8,2086.1 L2161.1,2086.2 L2166.4,2088.6 L2171.7,2088.2 L2177.0,2088.7 L2182.3,2087.5 L2187.6,2087.5 L2192.9,2088.5 L2198.2,2090.1 L2203.5,2087.9 L2208.8,2089.2 L2214.1,2088.0 L2219.4,2088.4 L2224.7,2087.0 L2230.0,2087.5 L2235.3,2089.2 L2240.6,2088.4 L2245.9,2086.9 L2251.2,2089.3 L2256.5,2088.3 L2261.8,2087.5 L2267.1,2087.4 L2272.4,2088.2 L2277.7,2090.2 L2283.0,2090.1 L2288.3,2088.5 L2293.6,2088.3 L2298.9,2086.0 L2304.2,2089.7 L2309.5,2087.5" stroke="#ff00ff"/>
<path d="M454.5,2087.9 L459.8,2090.2 L465.1,2088.9 L470.4,2087.5 L475.7,2087.8 L481.0,2087.1 L486.3,2086.0 L491.6,2087.0 L496.9,2085.2 L502.2,2085.9 L507.5,2085.3 L512.8,2083.7 L518.1,2084.4 L523.4,2082.9 L528.7,2081.0 L534.0,2082.1 L539.3,2081.7 L544.6,2080.1 L549.9,2080.7 L555.2,2078.5 L560.5,2080.3 L565.8,2077.6 L571.1,2078.0 L576.4,2077.6 L581.7,2074.1 L587.0,2076.0 L592.3,2072.4 L597.6,2072.7 L602.9,2070.9 L608.2,2072.6 L613.5,2069.3 L618.8,2068.0 L624.1,2068.7 L629.4,2067.6 L634.7,2063.8 L640.0,2065.1 L645.3,2064.6 L650.6,2063.6 L655.9,2061.2 L661.2,2060.0 L666.5,2058.9 L671.8,2055.9 L677.1,2056.7 L682.4,2054.5 L687.7,2052.0 L693.0,2053.1 L698.3,2049.4 L703.6,2047.0 L708.9,2048.8 L714.2,2046.9 L719.5,2045.1 L724.8,2044.3 L730.1,2040.1 L735.4,2040.7 L740.7,2036.4 L746.0,2033.5 L751.3,2034.9 L756.6,2031.6 L761.9,2031.3 L767.2,2026.4 L772.5,2026.0 L777.8,2023.4 L783.1,2021.0 L788.4,2018.4 L793.7,2017.1 L799.0,2014.6 L804.3,2012.9 L809.6,2010.0 L814.9,2009.1 L820.2,2005.4 L825.5,2005.2 L830.8,2001.3 L836.1,1996.4 L841.4,1996.0 L846.7,1995.0 L852.0,1990.9 L857.3,1989.8 L862.6,1988.0 L867.9,1984.6 L873.2,1980.5 L878.5,1978.4 L883.8,1976.4 L889.1,1974.8 L894.4,1972.4 L899.7,1967.3 L902.4,1967.2 L905.0,1967.2 L907.6,1960.1 L910.3,1978.3 L913.0,1959.8 L915.6,1962.4 L918.2,1960.0 L920.9,1958.4 L926.2,1956.3 L931.5,1953.9 L936.8,1952.5 L942.1,1949.7 L947.4,1944.3 L952.7,1944.5 L958.0,1940.3 L963.3,1940.6 L968.6,1936.7 L973.9,1933.7 L979.2,1930.6 L984.5,1930.5 L989.8,1926.4 L995.1,1924.3 L1000.4,1923.3 L1005.7,1919.8 L1011.0,1919.1 L1016.3,1916.8 L1021.6,1913.9 L1026.9,1914.7 L1032.2,1909.9 L1037.5,1908.9 L1042.8,1907.5 L1048.1,1904.5 L1053.4,1901.4 L1058.7,1900.9 L1064.0,1897.3 L1069.3,1898.2 L1074.6,1896.7 L1079.9,1892.1 L1085.2,1891.8 L1090.5,1889.7 L1095.8,1890.2 L1101.1,1887.1 L1106.4,1886.4 L1111.7,1884.7 L1117.0,1884.1 L1122.3,1881.7 L1127.6,1882.6 L1132.9,1881.9 L1138.2,1881.5 L1143.5,1877.7 L1148.8,1878.9 L1154.1,1878.4 L1159.4,1877.5 L1164.7,1876.3 L1170.0,1876.5 L1175.3,1874.9 L1180.6,1874.7 L1185.9,1874.1 L1191.2,1874.1 L1196.5,1872.7 L1201.8,1872.9 L1207.1,1872.0 L1212.4,1871.6 L1217.7,1871.2 L1223.0,1873.8 L1228.3,1871.9 L1233.6,1872.0 L1238.9,1870.3 L1244.2,1872.7 L1249.5,1871.7 L1254.8,1871.3 L1260.1,1871.3 L1265.4,1870.0 L1270.7,1871.6 L1276.0,1870.3 L1281.3,1873.1 L1286.6,1873.7 L1291.9,1870.8 L1297.2,1872.0 L1302.5,1872.3 L1307.8,1873.2 L1313.1,1873.3 L1318.4,1875.7 L1323.7,1874.0 L1329.0,1876.2 L1334.3,1875.3 L1339.6,1877.1 L1344.9,1880.1 L1350.2,1880.3 L1355.5,1878.7 L1360.8,1881.0 L1366.1,1882.3 L1371.4,1882.8 L1376.7,1884.7 L1382.0,1886.0 L1387.3,1886.6 L1392.6,1887.9 L1397.9,1887.8 L1403.2,1890.8 L1408.5,1890.4 L1413.8,1892.0 L1419.1,1893.7 L1424.4,1896.0 L1429.7,1898.7 L1435.0,1900.4 L1440.3,1902.5 L1445.6,1904.9 L1450.9,1906.0 L1456.2,1908.6 L1461.5,1908.1 L1466.8,1911.2 L1472.1,1914.3 L1477.4,1917.9 L1482.7,1918.0 L1488.0,1920.4 L1493.3,1923.3 L1498.6,1925.5 L1503.9,1928.9 L1509.2,1928.1 L1514.5,1931.0 L1519.8,1930.4 L1525.1,1935.5 L1530.4,1937.9 L1535.7,1938.5 L1541.0,1942.2 L1546.3,1944.4 L1551.6,1947.3 L1556.9,1949.9 L1562.2,1950.0 L1567.5,1952.9 L1572.8,1954.5 L1578.1,1959.0 L1583.4,1960.9 L1588.7,1964.2 L1594.0,1964.6 L1599.3,1969.4 L1604.6,1969.7 L1609.9,1971.4 L1615.2,1973.4 L1620.5,1978.1 L1625.8,1978.2 L1631.1,1982.4 L1636.4,1984.6 L1641.7,1987.5 L1647.0,1987.0 L1652.3,1988.6 L1657.6,1993.1 L1662.9,1995.4 L1668.2,1997.1 L1673.5,1996.1 L1678.8,1999.7 L1684.1,2003.3 L1689.4,2006.6 L1694.7,2007.4 L1700.0,2007.3 L1705.3,2008.5 L1710.6,2012.6 L1715.9,2014.8 L1721.2,2016.4 L1726.5,2019.6 L1731.8,2018.3 L1737.1,2022.1 L1742.4,2021.4 L1747.7,2026.0 L1753.0,2027.1 L1758.3,2026.9 L1763.6,2029.5 L1768.9,2029.3 L1774.2,2031.5 L1779.5,2034.2 L1784.8,2033.6 L1790.1,2034.6 L1795.4,2038.8 L1800.7,2036.1 L1806.0,2038.7 L1811.3,2039.5 L1816.6,2043.4 L1821.9,2043.3 L1827.2,2043.9 L1832.5,2043.4 L1837.8,2047.1 L1843.1,2047.4 L1848.4,2049.5 L1853.7,2048.5 L1859.0,2048.7 L1864.3,2051.7 L1869.6,2051.3 L1874.9,2050.9 L1880.2,2050.5 L1885.5,2052.1 L1890.8,2053.8 L1896.1,2055.4 L1901.4,2055.7 L1906.7,2056.0 L1912.0,2055.7 L1917.3,2056.4 L1922.6,2055.1 L1927.9,2057.0 L1933.2,2058.9 L1938.5,2056.6 L1943.8,2057.6 L1949.1,2058.9 L1954.4,2060.1 L1959.7,2061.7 L1965.0,2061.1 L1970.3,2059.4 L1975.6,2061.5 L1980.9,2062.3 L1986.2,2060.9 L1991.5,2061.1 L1996.8,2061.0 L2002.1,2061.1 L2007.4,2060.5 L2012.7,2063.1 L2018.0,2061.3 L2023.3,2063.5 L2028.6,2061.9 L2033.9,2062.6 L2039.2,2062.6 L2044.5,2061.9 L2049.8,2063.1 L2055.1,2062.0 L2060.4,2062.3 L2065.7,2063.1 L2071.0,2064.0 L2076.3,2064.2 L2081.6,2064.0 L2086.9,2063.7 L2092.2,2063.5 L2097.5,2060.3 L2102.8,2062.8 L2108.1,2062.7 L2113.4,2064.4 L2118.7,2064.3 L2124.0,2063.9 L2129.3,2063.3 L2134.6,2064.6 L2139.9,2061.7 L2145.2,2064.0 L2150.5,2062.3 L2155.8,2065.8 L2161.1,2063.3 L2166.4,2063.0 L2171.7,2063.0 L2177.0,2062.5 L2182.3,2062.8 L2187.6,2062.9 L2192.9,2065.0 L2198.2,2063.7 L2203.5,2065.4 L2208.8,2062.2 L2214.1,2062.4 L2219.4,2062.9 L2224.7,2063.5 L2230.0,2063.2 L2235.3,2060.5 L2240.6,2060.6 L2245.9,2062.4 L2251.2,2060.9 L2256.5,2063.9 L2261.8,2064.2 L2267.1,2062.6 L2272.4,2062.9 L2277.7,2062.5 L2283.0,2061.6 L2288.3,2058.5 L2293.6,2062.4 L2298.9,2061.5 L2304.2,2061.2 L2309.5,2061.4" stroke="#008000"/>
<path d="M454.5,2110.0 L459.8,2108.8 L465.1,2111.7 L470.4,2109.9 L475.7,2110.0 L481.0,2109.0 L486.3,2110.7 L491.6,2110.5 L496.9,2110.7 L502.2,2107.3 L507.5,2107.2 L512.8,2106.8 L518.1,2108.9 L523.4,2106.3 L528.7,2106.2 L534.0,2106.3 L539.3,2105.2 L544.6,2102.9 L549.9,2102.4 L555.2,2102.4 L560.5,2101.1 L565.8,2101.6 L571.1,2100.1 L576.4,2099.3 L581.7,2097.9 L587.0,2097.7 L592.3,2096.9 L597.6,2096.0 L602.9,2095.5 L608.2,2091.5 L613.5,2092.2 L618.8,2091.2 L624.1,2088.1 L629.4,2087.9 L634.7,2089.8 L640.0,2086.1 L645.3,2084.7 L650.6,2082.2 L655.9,2081.4 L661.2,2080.5 L666.5,2081.1 L671.8,2079.2 L677.1,2076.3 L682.4,2074.4 L687.7,2074.3 L693.0,2071.9 L698.3,2070.1 L703.6,2067.7 L708.9,2065.5 L714.2,2064.1 L719.5,2063.1 L724.8,2058.4 L730.1,2055.8 L735.4,2055.4 L740.7,2051.9 L746.0,2050.2 L751.3,2047.6 L756.6,2045.4 L761.9,2044.2 L767.2,2040.2 L772.5,2037.1 L777.8,2036.5 L783.1,2030.8 L788.4,2027.9 L793.7,2025.3 L799.0,2022.3 L804.3,2020.7 L809.6,2018.9 L814.9,2016.2 L820.2,2013.3 L825.5,2009.3 L830.8,2006.3 L836.1,2002.3 L841.4,2002.0 L846.7,1994.1 L852.0,1990.9 L857.3,1990.0 L862.6,1985.9 L867.9,1982.7 L873.2,1979.5 L878.5,1976.6 L883.8,1973.1 L889.1,1970.3 L894.4,1965.8 L899.7,1962.5 L902.4,1960.3 L905.0,1959.8 L907.6,1948.3 L910.3,1971.8 L913.0,1953.0 L915.6,1953.0 L918.2,1949.7 L920.9,1947.3 L926.2,1944.2 L931.5,1941.7 L936.8,1938.3 L942.1,1934.5 L947.4,1929.9 L952.7,1925.6 L958.0,1923.9 L963.3,1921.0 L968.6,1916.5 L973.9,1913.2 L979.2,1911.0 L984.5,1907.5 L989.8,1903.5 L995.1,1899.4 L1000.4,1898.2 L1005.7,1894.8 L1011.0,1890.1 L1016.3,1888.8 L1021.6,1884.4 L1026.9,1881.1 L1032.2,1878.7 L1037.5,1876.8 L1042.8,1873.0 L1048.1,1870.5 L1053.4,1867.1 L1058.7,1865.8 L1064.0,1861.2 L1069.3,1861.7 L1074.6,1857.7 L1079.9,1855.2 L1085.2,1851.9 L1090.5,1851.5 L1095.8,1848.2 L1101.1,1847.3 L1106.4,1844.0 L1111.7,1841.1 L1117.0,1841.7 L1122.3,1839.1 L1127.6,1839.0 L1132.9,1835.5 L1138.2,1833.8 L1143.5,1833.7 L1148.8,1833.7 L1154.1,1830.9 L1159.4,1829.0 L1164.7,1828.1 L1170.0,1827.5 L1175.3,1829.5 L1180.6,1827.5 L1185.9,1824.6 L1191.2,1826.8 L1196.5,1823.7 L1201.8,1822.5 L1207.1,1823.3 L1212.4,1822.6 L1217.7,1823.9 L1223.0,1824.6 L1228.3,1823.3 L1233.6,1823.3 L1238.9,1823.1 L1244.2,1822.2 L1249.5,1823.1 L1254.8,1822.8 L1260.1,1822.7 L1265.4,1823.3 L1270.7,1821.5 L1276.0,1823.3 L1281.3,1824.0 L1286.6,1824.7 L1291.9,1825.6 L1297.2,1824.0 L1302.5,1825.9 L1307.8,1827.9 L1313.1,1828.1 L1318.4,1828.4 L1323.7,1829.6 L1329.0,1829.0 L1334.3,1832.4 L1339.6,1831.8 L1344.9,1833.3 L1350.2,1836.0 L1355.5,1836.0 L1360.8,1837.6 L1366.1,1838.4 L1371.4,1841.0 L1376.7,1841.9 L1382.0,1845.7 L1387.3,1846.8 L1392.6,1846.7 L1397.9,1848.4 L1403.2,1851.5 L1408.5,1854.2 L1413.8,1854.5 L1419.1,1860.1 L1424.4,1861.0 L1429.7,1861.7 L1435.0,1864.1 L1440.3,1868.4 L1445.6,1871.8 L1450.9,1870.8 L1456.2,1874.8 L1461.5,1878.6 L1466.8,1880.3 L1472.1,1882.2 L1477.4,1888.7 L1482.7,1887.6 L1488.0,1890.9 L1493.3,1896.8 L1498.6,1896.8 L1503.9,1902.5 L1509.2,1902.4 L1514.5,1906.3 L1519.8,1907.4 L1525.1,1913.6 L1530.4,1916.0 L1535.7,1918.1 L1541.0,1923.1 L1546.3,1926.3 L1551.6,1929.2 L1556.9,1932.0 L1562.2,1936.3 L1567.5,1937.9 L1572.8,1941.0 L1578.1,1944.8 L1583.4,1946.2 L1588.7,1951.6 L1594.0,1953.1 L1599.3,1958.2 L1604.6,1960.0 L1609.9,1966.0 L1615.2,1966.9 L1620.5,1970.4 L1625.8,1973.9 L1631.1,1977.1 L1636.4,1979.9 L1641.7,1983.3 L1647.0,1987.9 L1652.3,1989.1 L1657.6,1992.0 L1662.9,1994.9 L1668.2,1998.3 L1673.5,2000.2 L1678.8,2002.0 L1684.1,2005.8 L1689.4,2008.8 L1694.7,2009.5 L1700.0,2012.5 L1705.3,2015.2 L1710.6,2017.5 L1715.9,2021.5 L1721.2,2023.8 L1726.5,2024.8 L1731.8,2028.9 L1737.1,2030.8 L1742.4,2032.5 L1747.7,2034.7 L1753.0,2037.6 L1758.3,2038.3 L1763.6,2041.6 L1768.9,2042.6 L1774.2,2044.2 L1779.5,2046.6 L1784.8,2048.3 L1790.1,2052.2 L1795.4,2054.1 L1800.7,2055.0 L1806.0,2055.5 L1811.3,2056.0 L1816.6,2060.5 L1821.9,2060.4 L1827.2,2063.1 L1832.5,2064.4 L1837.8,2065.2 L1843.1,2065.5 L1848.4,2067.3 L1853.7,2067.5 L1859.0,2071.0 L1864.3,2070.2 L1869.6,2071.2 L1874.9,2073.2 L1880.2,2073.8 L1885.5,2075.9 L1890.8,2077.4 L1896.1,2077.6 L1901.4,2078.7 L1906.7,2075.8 L1912.0,2080.1 L1917.3,2078.6 L1922.6,2080.9 L1927.9,2081.5 L1933.2,2081.7 L1938.5,2083.9 L1943.8,2082.7 L1949.1,2083.9 L1954.4,2086.4 L1959.7,2084.7 L1965.0,2085.3 L1970.3,2085.8 L1975.6,2085.1 L1980.9,2087.6 L1986.2,2087.0 L1991.5,2087.2 L1996.8,2089.3 L2002.1,2087.4 L2007.4,2090.5 L2012.7,2090.6 L2018.0,2089.0 L2023.3,2090.9 L2028.6,2090.1 L2033.9,2092.0 L2039.2,2090.4 L2044.5,2091.9 L2049.8,2090.5 L2055.1,2092.6 L2060.4,2090.7 L2065.7,2091.6 L2071.0,2091.4 L2076.3,2091.6 L2081.6,2091.5 L2086.9,2093.2 L2092.2,2094.6 L2097.5,2091.9 L2102.8,2093.0 L2108.1,2092.5 L2113.4,2091.7 L2118.7,2094.3 L2124.0,2093.0 L2129.3,2092.9 L2134.6,2093.4 L2139.9,2091.9 L2145.2,2092.4 L2150.5,2093.2 L2155.8,2093.4 L2161.1,2091.5 L2166.4,2093.0 L2171.7,2091.7 L2177.0,2091.8 L2182.3,2094.3 L2187.6,2093.4 L2192.9,2092.2 L2198.2,2091.9 L2203.5,2091.4 L2208.8,2091.3 L2214.1,2091.0 L2219.4,2092.5 L2224.7,2092.3 L2230.0,2091.2 L2235.3,2092.4 L2240.6,2090.8 L2245.9,2093.6 L2251.2,2091.1 L2256.5,2092.0 L2261.8,2093.8 L2267.1,2090.7 L2272.4,2091.3 L2277.7,2091.6 L2283.0,2092.7 L2288.3,2092.0 L2293.6,2089.8 L2298.9,2092.3 L2304.2,2095.0 L2309.5,2092.2" stroke="#000080"/>
<path d="M454.5,2080.4 L459.8,2078.9 L465.1,2078.8 L470.4,2079.0 L475.7,2078.5 L481.0,2076.1 L486.3,2078.3 L491.6,2074.2 L496.9,2076.3 L502.2,2076.4 L507.5,2073.8 L512.8,2073.5 L518.1,2074.6 L523.4,2072.0 L528.7,2074.1 L534.0,2072.5 L539.3,2069.5 L544.6,2070.2 L549.9,2070.5 L555.2,2067.8 L560.5,2066.5 L565.8,2066.6 L571.1,2067.5 L576.4,2065.0 L581.7,2063.1 L587.0,2061.7 L592.3,2059.4 L597.6,2060.5 L602.9,2059.5 L608.2,2057.8 L613.5,2055.2 L618.8,2056.1 L624.1,2052.3 L629.4,2055.2 L634.7,2049.9 L640.0,2049.9 L645.3,2047.1 L650.6,2045.2 L655.9,2045.5 L661.2,2042.6 L666.5,2040.5 L671.8,2038.2 L677.1,2037.9 L682.4,2036.0 L687.7,2035.0 L693.0,2028.2 L698.3,2028.9 L703.6,2026.8 L708.9,2025.9 L714.2,2021.0 L719.5,2020.2 L724.8,2015.7 L730.1,2013.8 L735.4,2012.1 L740.7,2008.8 L746.0,2008.1 L751.3,2004.6 L756.6,2002.1 L761.9,2000.0 L767.2,1995.8 L772.5,1993.1 L777.8,1988.5 L783.1,1990.6 L788.4,1984.7 L793.7,1981.8 L799.0,1978.2 L804.3,1974.1 L809.6,1970.9 L814.9,1968.0 L820.2,1965.2 L825.5,1960.8 L830.8,1957.6 L836.1,1956.5 L841.4,1951.4 L846.7,1949.1 L852.0,1945.4 L857.3,1940.5 L862.6,1937.0 L867.9,1933.4 L873.2,1930.8 L878.5,1926.5 L883.8,1923.7 L889.1,1918.6 L894.4,1914.7 L899.7,1909.9 L902.4,1908.6 L905.0,1909.0 L907.6,1899.7 L910.3,1918.6 L913.0,1902.3 L915.6,1898.7 L918.2,1898.3 L920.9,1899.6 L926.2,1894.9 L931.5,1891.3 L936.8,1885.8 L942.1,1882.8 L947.4,1878.9 L952.7,1873.8 L958.0,1873.1 L963.3,1869.6 L968.6,1863.1 L973.9,1861.4 L979.2,1859.3 L984.5,1857.2 L989.8,1853.4 L995.1,1851.1 L1000.4,1845.2 L1005.7,1842.1 L1011.0,1838.0 L1016.3,1836.1 L1021.6,1833.7 L1026.9,1830.9 L1032.2,1825.2 L1037.5,1826.3 L1042.8,1821.5 L1048.1,1818.9 L1053.4,1815.7 L1058.7,1814.3 L1064.0,1810.8 L1069.3,1808.1 L1074.6,1806.8 L1079.9,1804.9 L1085.2,1802.5 L1090.5,1801.3 L1095.8,1798.5 L1101.1,1796.7 L1106.4,1794.3 L1111.7,1791.4 L1117.0,1789.7 L1122.3,1790.0 L1127.6,1787.4 L1132.9,1786.3 L1138.2,1784.5 L1143.5,1784.1 L1148.8,1782.7 L1154.1,1782.4 L1159.4,1781.7 L1164.7,1779.1 L1170.0,1777.8 L1175.3,1777.7 L1180.6,1777.3 L1185.9,1776.9 L1191.2,1777.1 L1196.5,1778.1 L1201.8,1775.1 L1207.1,1775.3 L1212.4,1775.9 L1217.7,1776.2 L1223.0,1773.7 L1228.3,1776.9 L1233.6,1773.1 L1238.9,1774.3 L1244.2,1772.5 L1249.5,1775.9 L1254.8,1775.3 L1260.1,1776.0 L1265.4,1775.5 L1270.7,1776.2 L1276.0,1777.2 L1281.3,1775.7 L1286.6,1778.2 L1291.9,1778.5 L1297.2,1778.1 L1302.5,1780.0 L1307.8,1780.7 L1313.1,1780.8 L1318.4,1782.6 L1323.7,1784.6 L1329.0,1784.5 L1334.3,1785.9 L1339.6,1785.2 L1344.9,1789.6 L1350.2,1788.9 L1355.5,1792.3 L1360.8,1793.5 L1366.1,1795.2 L1371.4,1796.4 L1376.7,1797.7 L1382.0,1798.8 L1387.3,1803.4 L1392.6,1803.4 L1397.9,1806.0 L1403.2,1808.5 L1408.5,1812.6 L1413.8,1813.3 L1419.1,1816.9 L1424.4,1819.0 L1429.7,1822.3 L1435.0,1824.1 L1440.3,1826.4 L1445.6,1829.3 L1450.9,1833.6 L1456.2,1835.3 L1461.5,1837.9 L1466.8,1843.6 L1472.1,1844.2 L1477.4,1850.4 L1482.7,1851.6 L1488.0,1854.9 L1493.3,1857.3 L1498.6,1862.0 L1503.9,1866.2 L1509.2,1870.0 L1514.5,1874.0 L1519.8,1875.4 L1525.1,1880.0 L1530.4,1884.1 L1535.7,1886.3 L1541.0,1891.3 L1546.3,1894.6 L1551.6,1898.3 L1556.9,1899.7 L1562.2,1903.5 L1567.5,1908.9 L1572.8,1914.1 L1578.1,1915.8 L1583.4,1919.7 L1588.7,1923.0 L1594.0,1926.4 L1599.3,1931.0 L1604.6,1933.3 L1609.9,1937.0 L1615.2,1941.3 L1620.5,1945.5 L1625.8,1949.1 L1631.1,1951.4 L1636.4,1956.8 L1641.7,1959.2 L1647.0,1963.3 L1652.3,1967.3 L1657.6,1968.6 L1662.9,1972.5 L1668.2,1975.7 L1673.5,1978.1 L1678.8,1983.8 L1684.1,1985.4 L1689.4,1988.1 L1694.7,1990.6 L1700.0,1995.7 L1705.3,1996.7 L1710.6,2000.1 L1715.9,2001.8 L1721.2,2004.8 L1726.5,2008.2 L1731.8,2009.2 L1737.1,2014.1 L1742.4,2017.2 L1747.7,2019.6 L1753.0,2022.7 L1758.3,2024.2 L1763.6,2028.5 L1768.9,2028.9 L1774.2,2030.7 L1779.5,2032.3 L1784.8,2035.8 L1790.1,2036.1 L1795.4,2040.3 L1800.7,2041.7 L1806.0,2045.5 L1811.3,2046.2 L1816.6,2048.0 L1821.9,2047.4 L1827.2,2050.1 L1832.5,2053.5 L1837.8,2053.4 L1843.1,2055.0 L1848.4,2057.2 L1853.7,2058.4 L1859.0,2060.2 L1864.3,2061.8 L1869.6,2064.4 L1874.9,2063.9 L1880.2,2063.7 L1885.5,2064.7 L1890.8,2067.7 L1896.1,2069.2 L1901.4,2069.7 L1906.7,2069.6 L1912.0,2071.2 L1917.3,2073.1 L1922.6,2073.0 L1927.9,2074.4 L1933.2,2074.5 L1938.5,2076.3 L1943.8,2078.1 L1949.1,2077.3 L1954.4,2077.2 L1959.7,2079.8 L1965.0,2079.4 L1970.3,2079.0 L1975.6,2080.9 L1980.9,2081.8 L1986.2,2079.5 L1991.5,2081.3 L1996.8,2081.5 L2002.1,2084.0 L2007.4,2081.8 L2012.7,2085.6 L2018.0,2084.9 L2023.3,2083.9 L2028.6,2083.7 L2033.9,2086.4 L2039.2,2086.4 L2044.5,2085.8 L2049.8,2088.3 L2055.1,2085.9 L2060.4,2086.3 L2065.7,2087.6 L2071.0,2086.8 L2076.3,2086.8 L2081.6,2087.5 L2086.9,2087.4 L2092.2,2086.6 L2097.5,2088.8 L2102.8,2088.4 L2108.1,2089.2 L2113.4,2087.8 L2118.7,2089.4 L2124.0,2088.6 L2129.3,2089.1 L2134.6,2089.3 L2139.9,2087.7 L2145.2,2089.7 L2150.5,2088.2 L2155.8,2088.9 L2161.1,2088.5 L2166.4,2090.1 L2171.7,2089.1 L2177.0,2089.4 L2182.3,2090.8 L2187.6,2090.0 L2192.9,2090.5 L2198.2,2090.5 L2203.5,2089.1 L2208.8,2091.3 L2214.1,2092.3 L2219.4,2092.4 L2224.7,2091.2 L2230.0,2091.4 L2235.3,2090.8 L2240.6,2090.2 L2245.9,2089.1 L2251.2,2090.6 L2256.5,2090.5 L2261.8,2091.7 L2267.1,2090.4 L2272.4,2089.7 L2277.7,2089.7 L2283.0,2093.1 L2288.3,2090.2 L2293.6,2089.6 L2298.9,2090.4 L2304.2,2092.8 L2309.5,2091.6" stroke="#8800ff"/>
<path d="M454.5,2073.5 L459.8,2073.1 L465.1,2073.8 L470.4,2073.3 L475.7,2070.7 L481.0,2072.4 L486.3,2068.9 L491.6,2069.6 L496.9,2068.5 L502.2,2069.3 L507.5,2067.7 L512.8,2065.5 L518.1,2066.7 L523.4,2062.1 L528.7,2064.6 L534.0,2063.2 L539.3,2060.8 L544.6,2059.1 L549.9,2057.6 L555.2,2057.3 L560.5,2055.8 L565.8,2054.3 L571.1,2053.2 L576.4,2053.6 L581.7,2048.3 L587.0,2047.3 L592.3,2045.6 L597.6,2044.5 L602.9,2041.7 L608.2,2039.9 L613.5,2037.9 L618.8,2034.5 L624.1,2035.2 L629.4,2030.8 L634.7,2029.7 L640.0,2026.5 L645.3,2022.0 L650.6,2022.0 L655.9,2018.3 L661.2,2015.9 L666.5,2011.4 L671.8,2010.4 L677.1,2008.0 L682.4,2002.5 L687.7,2000.1 L693.0,1996.7 L698.3,1991.8 L703.6,1990.2 L708.9,1986.0 L714.2,1981.8 L719.5,1977.6 L724.8,1974.7 L730.1,1969.1 L735.4,1963.7 L740.7,1962.2 L746.0,1955.6 L751.3,1955.3 L756.6,1947.2 L761.9,1944.4 L767.2,1939.3 L772.5,1935.0 L777.8,1930.5 L783.1,1926.3 L788.4,1920.4 L793.7,1913.7 L799.0,1908.7 L804.3,1905.0 L809.6,1899.9 L814.9,1894.8 L820.2,1889.9 L825.5,1881.4 L830.8,1877.1 L836.1,1872.0 L841.4,1867.0 L846.7,1861.9 L852.0,1853.8 L857.3,1848.6 L862.6,1844.6 L867.9,1836.8 L873.2,1833.1 L878.5,1825.4 L883.8,1821.2 L889.1,1814.7 L894.4,1807.8 L899.7,1802.0 L902.4,1798.4 L905.0,1797.3 L907.6,1783.0 L910.3,1805.6 L913.0,1787.6 L915.6,1784.1 L918.2,1782.4 L920.9,1778.8 L926.2,1774.1 L931.5,1766.8 L936.8,1760.8 L942.1,1753.8 L947.4,1748.4 L952.7,1742.7 L958.0,1738.2 L963.3,1732.4 L968.6,1726.8 L973.9,1720.7 L979.2,1717.4 L984.5,1709.2 L989.8,1706.2 L995.1,1699.8 L1000.4,1694.0 L1005.7,1689.4 L1011.0,1682.1 L1016.3,1679.0 L1021.6,1672.4 L1026.9,1668.0 L1032.2,1665.0 L1037.5,1659.5 L1042.8,1654.2 L1048.1,1651.5 L1053.4,1646.8 L1058.7,1643.4 L1064.0,1638.7 L1069.3,1635.3 L1074.6,1631.1 L1079.9,1626.5 L1085.2,1622.6 L1090.5,1620.5 L1095.8,1617.2 L1101.1,1613.5 L1106.4,1611.7 L1111.7,1609.6 L1117.0,1604.7 L1122.3,1604.3 L1127.6,1600.0 L1132.9,1599.6 L1138.2,1594.7 L1143.5,1595.6 L1148.8,1591.8 L1154.1,1589.4 L1159.4,1590.4 L1164.7,1586.4 L1170.0,1587.4 L1175.3,1587.2 L1180.6,1583.6 L1185.9,1582.7 L1191.2,1582.8 L1196.5,1584.5 L1201.8,1581.4 L1207.1,1581.2 L1212.4,1580.9 L1217.7,1580.6 L1223.0,1582.0 L1228.3,1580.7 L1233.6,1578.3 L1238.9,1578.6 L1244.2,1580.6 L1249.5,1581.1 L1254.8,1580.2 L1260.1,1579.9 L1265.4,1580.6 L1270.7,1583.1 L1276.0,1582.3 L1281.3,1583.0 L1286.6,1582.5 L1291.9,1583.7 L1297.2,1585.4 L1302.5,1585.8 L1307.8,1588.7 L1313.1,1588.1 L1318.4,1591.6 L1323.7,1592.4 L1329.0,1593.6 L1334.3,1597.3 L1339.6,1599.1 L1344.9,1602.3 L1350.2,1602.5 L1355.5,1605.1 L1360.8,1607.9 L1366.1,1609.6 L1371.4,1615.0 L1376.7,1615.7 L1382.0,1618.6 L1387.3,1622.0 L1392.6,1624.1 L1397.9,1626.5 L1403.2,1632.2 L1408.5,1636.2 L1413.8,1639.6 L1419.1,1642.6 L1424.4,1646.0 L1429.7,1651.5 L1435.0,1653.7 L1440.3,1660.0 L1445.6,1662.4 L1450.9,1667.2 L1456.2,1671.7 L1461.5,1674.6 L1466.8,1681.7 L1472.1,1686.4 L1477.4,1690.6 L1482.7,1695.2 L1488.0,1702.4 L1493.3,1705.8 L1498.6,1712.0 L1503.9,1715.9 L1509.2,1720.4 L1514.5,1727.1 L1519.8,1732.6 L1525.1,1737.8 L1530.4,1746.5 L1535.7,1748.2 L1541.0,1754.0 L1546.3,1760.0 L1551.6,1766.2 L1556.9,1772.2 L1562.2,1777.3 L1567.5,1781.6 L1572.8,1788.7 L1578.1,1792.9 L1583.4,1802.7 L1588.7,1806.3 L1594.0,1811.2 L1599.3,1817.3 L1604.6,1824.7 L1609.9,1829.4 L1615.2,1833.1 L1620.5,1841.4 L1625.8,1846.8 L1631.1,1852.5 L1636.4,1857.6 L1641.7,1861.9 L1647.0,1867.5 L1652.3,1875.7 L1657.6,1877.6 L1662.9,1885.1 L1668.2,1890.4 L1673.5,1893.5 L1678.8,1900.5 L1684.1,1906.9 L1689.4,1911.4 L1694.7,1916.6 L1700.0,1921.9 L1705.3,1926.2 L1710.6,1929.8 L1715.9,1935.2 L1721.2,1941.7 L1726.5,1942.2 L1731.8,1950.6 L1737.1,1954.0 L1742.4,1958.6 L1747.7,1962.2 L1753.0,1967.6 L1758.3,1971.1 L1763.6,1973.5 L1768.9,1979.7 L1774.2,1984.8 L1779.5,1987.3 L1784.8,1992.3 L1790.1,1995.6 L1795.4,1998.7 L1800.7,2002.1 L1806.0,2006.2 L1811.3,2008.5 L1816.6,2012.9 L1821.9,2017.3 L1827.2,2018.2 L1832.5,2022.6 L1837.8,2023.9 L1843.1,2028.8 L1848.4,2030.4 L1853.7,2033.4 L1859.0,2039.2 L1864.3,2040.5 L1869.6,2042.7 L1874.9,2042.6 L1880.2,2048.3 L1885.5,2047.8 L1890.8,2049.8 L1896.1,2052.6 L1901.4,2054.5 L1906.7,2057.8 L1912.0,2059.2 L1917.3,2060.9 L1922.6,2062.5 L1927.9,2064.0 L1933.2,2066.7 L1938.5,2068.8 L1943.8,2070.3 L1949.1,2070.8 L1954.4,2074.4 L1959.7,2075.4 L1965.0,2075.9 L1970.3,2077.4 L1975.6,2078.4 L1980.9,2082.0 L1986.2,2080.8 L1991.5,2081.9 L1996.8,2081.9 L2002.1,2085.8 L2007.4,2085.0 L2012.7,2085.2 L2018.0,2086.1 L2023.3,2086.3 L2028.6,2087.2 L2033.9,2090.2 L2039.2,2089.2 L2044.5,2091.0 L2049.8,2092.1 L2055.1,2090.4 L2060.4,2093.3 L2065.7,2094.1 L2071.0,2094.3 L2076.3,2095.3 L2081.6,2093.9 L2086.9,2095.1 L2092.2,2094.5 L2097.5,2096.0 L2102.8,2097.5 L2108.1,2096.2 L2113.4,2098.4 L2118.7,2098.6 L2124.0,2098.6 L2129.3,2098.8 L2134.6,2097.9 L2139.9,2100.1 L2145.2,2099.4 L2150.5,2100.1 L2155.8,2101.6 L2161.1,2101.7 L2166.4,2101.1 L2171.7,2100.7 L2177.0,2101.0 L2182.3,2101.1 L2187.6,2101.7 L2192.9,2102.4 L2198.2,2101.7 L2203.5,2103.4 L2208.8,2103.9 L2214.1,2103.1 L2219.4,2104.3 L2224.7,2103.6 L2230.0,2104.0 L2235.3,2103.9 L2240.6,2103.5 L2245.9,2104.4 L2251.2,2104.2 L2256.5,2105.6 L2261.8,2103.8 L2267.1,2105.0 L2272.4,2103.8 L2277.7,2107.2 L2283.0,2105.3 L2288.3,2104.3 L2293.6,2107.1 L2298.9,2105.1 L2304.2,2104.7 L2309.5,2104.8" stroke="#990099"/>
<path d="M454.5,2056.6 L459.8,2053.9 L465.1,2052.9 L470.4,2053.0 L475.7,2050.1 L481.0,2049.7 L486.3,2048.3 L491.6,2047.5 L496.9,2045.1 L502.2,2044.1 L507.5,2041.5 L512.8,2040.6 L518.1,2040.0 L523.4,2037.8 L528.7,2034.8 L534.0,2034.2 L539.3,2031.5 L544.6,2029.3 L549.9,2027.8 L555.2,2027.8 L560.5,2022.9 L565.8,2020.4 L571.1,2017.9 L576.4,2016.2 L581.7,2011.4 L587.0,2010.0 L592.3,2007.5 L597.6,2004.6 L602.9,2000.3 L608.2,1998.5 L613.5,1995.1 L618.8,1988.5 L624.1,1985.6 L629.4,1982.1 L634.7,1978.0 L640.0,1974.8 L645.3,1973.1 L650.6,1965.9 L655.9,1961.5 L661.2,1957.9 L666.5,1955.8 L671.8,1947.8 L677.1,1942.8 L682.4,1939.8 L687.7,1934.1 L693.0,1928.2 L698.3,1923.8 L703.6,1917.1 L708.9,1912.5 L714.2,1906.2 L719.5,1901.0 L724.8,1896.6 L730.1,1890.0 L735.4,1879.6 L740.7,1876.2 L746.0,1868.7 L751.3,1862.3 L756.6,1855.0 L761.9,1849.4 L767.2,1843.7 L772.5,1836.0 L777.8,1830.9 L783.1,1821.9 L788.4,1813.4 L793.7,1809.2 L799.0,1799.2 L804.3,1791.0 L809.6,1782.7 L814.9,1777.3 L820.2,1769.1 L825.5,1762.5 L830.8,1753.6 L836.1,1743.9 L841.4,1734.2 L846.7,1729.3 L852.0,1718.5 L857.3,1711.2 L862.6,1703.8 L867.9,1692.7 L873.2,1689.2 L878.5,1678.2 L883.8,1669.5 L889.1,1659.1 L894.4,1651.0 L899.7,1642.1 L902.4,1640.0 L905.0,1634.9 L907.6,1619.7 L910.3,1646.7 L913.0,1622.9 L915.6,1619.3 L918.2,1615.3 L920.9,1612.0 L926.2,1600.4 L931.5,1594.5 L936.8,1587.9 L942.1,1577.3 L947.4,1569.4 L952.7,1561.1 L958.0,1551.4 L963.3,1545.4 L968.6,1537.6 L973.9,1530.3 L979.2,1521.9 L984.5,1514.7 L989.8,1506.5 L995.1,1496.1 L1000.4,1491.7 L1005.7,1485.8 L1011.0,1475.9 L1016.3,1470.1 L1021.6,1463.4 L1026.9,1456.8 L1032.2,1450.2 L1037.5,1444.1 L1042.8,1437.1 L1048.1,1431.5 L1053.4,1425.3 L1058.7,1421.5 L1064.0,1415.5 L1069.3,1410.9 L1074.6,1404.0 L1079.9,1399.1 L1085.2,1395.6 L1090.5,1389.9 L1095.8,1383.4 L1101.1,1380.5 L1106.4,1378.9 L1111.7,1374.0 L1117.0,1369.5 L1122.3,1366.7 L1127.6,1363.0 L1132.9,1359.0 L1138.2,1357.0 L1143.5,1355.7 L1148.8,1351.3 L1154.1,1349.7 L1159.4,1347.4 L1164.7,1346.1 L1170.0,1345.1 L1175.3,1343.3 L1180.6,1340.9 L1185.9,1340.4 L1191.2,1341.0 L1196.5,1336.1 L1201.8,1337.7 L1207.1,1336.6 L1212.4,1334.8 L1217.7,1337.5 L1223.0,1333.4 L1228.3,1335.4 L1233.6,1334.0 L1238.9,1335.2 L1244.2,1334.5 L1249.5,1334.9 L1254.8,1335.3 L1260.1,1337.6 L1265.4,1337.8 L1270.7,1336.9 L1276.0,1336.2 L1281.3,1339.1 L1286.6,1339.0 L1291.9,1340.6 L1297.2,1341.6 L1302.5,1342.5 L1307.8,1346.7 L1313.1,1346.6 L1318.4,1349.0 L1323.7,1351.2 L1329.0,1353.9 L1334.3,1356.3 L1339.6,1359.0 L1344.9,1361.8 L1350.2,1360.9 L1355.5,1364.8 L1360.8,1369.7 L1366.1,1372.3 L1371.4,1377.6 L1376.7,1383.1 L1382.0,1385.9 L1387.3,1387.9 L1392.6,1390.7 L1397.9,1396.5 L1403.2,1402.0 L1408.5,1405.8 L1413.8,1411.3 L1419.1,1416.7 L1424.4,1420.5 L1429.7,1425.9 L1435.0,1431.7 L1440.3,1437.2 L1445.6,1442.9 L1450.9,1447.4 L1456.2,1452.1 L1461.5,1459.8 L1466.8,1463.4 L1472.1,1473.7 L1477.4,1478.1 L1482.7,1486.1 L1488.0,1491.7 L1493.3,1498.1 L1498.6,1504.5 L1503.9,1510.8 L1509.2,1519.6 L1514.5,1527.4 L1519.8,1533.5 L1525.1,1540.2 L1530.4,1548.6 L1535.7,1554.4 L1541.0,1561.0 L1546.3,1571.8 L1551.6,1577.6 L1556.9,1584.5 L1562.2,1595.3 L1567.5,1600.8 L1572.8,1609.0 L1578.1,1618.1 L1583.4,1623.1 L1588.7,1632.1 L1594.0,1640.7 L1599.3,1647.7 L1604.6,1655.4 L1609.9,1663.1 L1615.2,1671.2 L1620.5,1679.3 L1625.8,1688.8 L1631.1,1695.9 L1636.4,1703.2 L1641.7,1714.1 L1647.0,1716.8 L1652.3,1727.2 L1657.6,1735.6 L1662.9,1744.1 L1668.2,1749.6 L1673.5,1757.5 L1678.8,1765.6 L1684.1,1773.0 L1689.4,1780.9 L1694.7,1788.1 L1700.0,1794.8 L1705.3,1802.6 L1710.6,1808.4 L1715.9,1816.3 L1721.2,1823.1 L1726.5,1829.7 L1731.8,1835.7 L1737.1,1843.1 L1742.4,1850.2 L1747.7,1857.2 L1753.0,1864.4 L1758.3,1870.3 L1763.6,1875.5 L1768.9,1882.2 L1774.2,1889.0 L1779.5,1896.0 L1784.8,1902.1 L1790.1,1906.0 L1795.4,1910.9 L1800.7,1917.2 L1806.0,1924.5 L1811.3,1928.7 L1816.6,1933.5 L1821.9,1939.9 L1827.2,1943.6 L1832.5,1949.2 L1837.8,1954.7 L1843.1,1959.8 L1848.4,1962.4 L1853.7,1967.4 L1859.0,1973.1 L1864.3,1977.5 L1869.6,1979.8 L1874.9,1984.2 L1880.2,1989.1 L1885.5,1991.1 L1890.8,1996.8 L1896.1,2001.3 L1901.4,2002.7 L1906.7,2007.5 L1912.0,2010.3 L1917.3,2014.0 L1922.6,2018.3 L1927.9,2021.6 L1933.2,2023.6 L1938.5,2024.8 L1943.8,2030.2 L1949.1,2030.5 L1954.4,2034.3 L1959.7,2038.3 L1965.0,2039.4 L1970.3,2041.5 L1975.6,2045.3 L1980.9,2048.9 L1986.2,2048.5 L1991.5,2052.1 L1996.8,2052.5 L2002.1,2056.9 L2007.4,2057.0 L2012.7,2059.5 L2018.0,2062.0 L2023.3,2062.4 L2028.6,2063.6 L2033.9,2065.9 L2039.2,2068.1 L2044.5,2068.1 L2049.8,2071.5 L2055.1,2070.5 L2060.4,2071.8 L2065.7,2071.8 L2071.0,2073.8 L2076.3,2075.5 L2081.6,2076.7 L2086.9,2078.0 L2092.2,2080.4 L2097.5,2078.5 L2102.8,2080.4 L2108.1,2082.1 L2113.4,2083.9 L2118.7,2082.0 L2124.0,2083.7 L2129.3,2086.3 L2134.6,2085.1 L2139.9,2084.5 L2145.2,2087.1 L2150.5,2087.3 L2155.8,2088.7 L2161.1,2089.5 L2166.4,2088.3 L2171.7,2086.8 L2177.0,2090.3 L2182.3,2091.1 L2187.6,2090.6 L2192.9,2092.1 L2198.2,2091.5 L2203.5,2091.8 L2208.8,2094.1 L2214.1,2094.5 L2219.4,2093.8 L2224.7,2093.2 L2230.0,2094.1 L2235.3,2093.4 L2240.6,2096.4 L2245.9,2094.7 L2251.2,2096.2 L2256.5,2095.7 L2261.8,2095.7 L2267.1,2097.3 L2272.4,2096.7 L2277.7,2097.9 L2283.0,2096.6 L2288.3,2098.0 L2293.6,2097.8 L2298.9,2097.3 L2304.2,2098.3 L2309.5,2096.7" stroke="#a00000"/>
<path d="M454.5,2022.6 L459.8,2019.9 L465.1,2019.2 L470.4,2019.3 L475.7,2017.0 L481.0,2016.2 L486.3,2014.2 L491.6,2012.5 L496.9,2008.7 L502.2,2009.2 L507.5,2005.4 L512.8,2004.6 L518.1,2004.4 L523.4,2003.3 L528.7,1998.0 L534.0,1998.5 L539.3,1993.3 L544.6,1990.5 L549.9,1988.6 L555.2,1986.5 L560.5,1983.7 L565.8,1980.3 L571.1,1977.8 L576.4,1974.9 L581.7,1971.4 L587.0,1966.5 L592.3,1964.8 L597.6,1960.1 L602.9,1957.9 L608.2,1953.5 L613.5,1950.2 L618.8,1944.8 L624.1,1939.6 L629.4,1935.5 L634.7,1931.7 L640.0,1925.9 L645.3,1922.0 L650.6,1916.2 L655.9,1911.1 L661.2,1905.5 L666.5,1903.2 L671.8,1896.3 L677.1,1888.4 L682.4,1883.4 L687.7,1874.9 L693.0,1871.2 L698.3,1865.2 L703.6,1856.6 L708.9,1850.9 L714.2,1842.6 L719.5,1837.1 L724.8,1830.7 L730.1,1822.5 L735.4,1816.6 L740.7,1808.7 L746.0,1801.1 L751.3,1792.9 L756.6,1783.9 L761.9,1777.1 L767.2,1768.0 L772.5,1760.5 L777.8,1750.5 L783.1,1745.6 L788.4,1734.3 L793.7,1725.0 L799.0,1717.3 L804.3,1706.1 L809.6,1697.7 L814.9,1687.3 L820.2,1678.2 L825.5,1669.1 L830.8,1660.4 L836.1,1651.7 L841.4,1641.1 L846.7,1631.5 L852.0,1621.0 L857.3,1611.8 L862.6,1598.3 L867.9,1593.1 L873.2,1580.2 L878.5,1571.9 L883.8,1561.6 L889.1,1550.3 L894.4,1541.1 L899.7,1532.3 L902.4,1525.6 L905.0,1521.2 L907.6,1505.6 L910.3,1533.7 L913.0,1507.0 L915.6,1501.6 L918.2,1495.3 L920.9,1490.5 L926.2,1481.2 L931.5,1468.7 L936.8,1460.6 L942.1,1451.8 L947.4,1441.2 L952.7,1431.9 L958.0,1424.4 L963.3,1414.3 L968.6,1404.7 L973.9,1391.8 L979.2,1384.9 L984.5,1375.9 L989.8,1367.2 L995.1,1356.8 L1000.4,1349.1 L1005.7,1338.8 L1011.0,1331.4 L1016.3,1322.2 L1021.6,1316.0 L1026.9,1307.5 L1032.2,1300.6 L1037.5,1292.8 L1042.8,1287.0 L1048.1,1278.6 L1053.4,1272.0 L1058.7,1264.9 L1064.0,1256.4 L1069.3,1251.0 L1074.6,1243.8 L1079.9,1238.2 L1085.2,1232.4 L1090.5,1226.8 L1095.8,1223.1 L1101.1,1216.6 L1106.4,1212.8 L1111.7,1208.4 L1117.0,1202.2 L1122.3,1197.0 L1127.6,1196.3 L1132.9,1189.8 L1138.2,1187.2 L1143.5,1185.6 L1148.8,1181.4 L1154.1,1178.5 L1159.4,1175.9 L1164.7,1174.3 L1170.0,1173.0 L1175.3,1169.7 L1180.6,1167.1 L1185.9,1165.7 L1191.2,1164.5 L1196.5,1162.9 L1201.8,1164.0 L1207.1,1162.3 L1212.4,1161.3 L1217.7,1160.2 L1223.0,1160.8 L1228.3,1160.3 L1233.6,1160.7 L1238.9,1158.7 L1244.2,1163.2 L1249.5,1161.3 L1254.8,1159.1 L1260.1,1161.9 L1265.4,1164.7 L1270.7,1163.6 L1276.0,1166.2 L1281.3,1166.6 L1286.6,1167.1 L1291.9,1167.1 L1297.2,1170.1 L1302.5,1171.9 L1307.8,1173.7 L1313.1,1176.9 L1318.4,1180.5 L1323.7,1182.5 L1329.0,1185.1 L1334.3,1188.9 L1339.6,1192.7 L1344.9,1196.0 L1350.2,1201.1 L1355.5,1204.6 L1360.8,1208.0 L1366.1,1212.7 L1371.4,1217.1 L1376.7,1220.6 L1382.0,1226.8 L1387.3,1232.5 L1392.6,1239.3 L1397.9,1244.9 L1403.2,1249.4 L1408.5,1256.9 L1413.8,1261.9 L1419.1,1270.0 L1424.4,1275.5 L1429.7,1282.7 L1435.0,1288.7 L1440.3,1297.5 L1445.6,1304.9 L1450.9,1312.0 L1456.2,1320.0 L1461.5,1326.3 L1466.8,1336.4 L1472.1,1345.0 L1477.4,1353.2 L1482.7,1361.0 L1488.0,1369.9 L1493.3,1378.3 L1498.6,1389.4 L1503.9,1394.5 L1509.2,1404.3 L1514.5,1415.5 L1519.8,1426.1 L1525.1,1434.2 L1530.4,1443.4 L1535.7,1455.8 L1541.0,1463.1 L1546.3,1474.4 L1551.6,1482.2 L1556.9,1491.1 L1562.2,1501.4 L1567.5,1513.9 L1572.8,1520.9 L1578.1,1531.3 L1583.4,1542.6 L1588.7,1551.7 L1594.0,1560.6 L1599.3,1572.5 L1604.6,1582.1 L1609.9,1592.6 L1615.2,1600.8 L1620.5,1614.1 L1625.8,1620.2 L1631.1,1632.5 L1636.4,1640.3 L1641.7,1652.6 L1647.0,1661.5 L1652.3,1670.7 L1657.6,1678.7 L1662.9,1690.6 L1668.2,1697.7 L1673.5,1708.2 L1678.8,1715.4 L1684.1,1726.0 L1689.4,1734.2 L1694.7,1743.7 L1700.0,1750.4 L1705.3,1761.2 L1710.6,1769.4 L1715.9,1775.7 L1721.2,1785.9 L1726.5,1793.4 L1731.8,1802.9 L1737.1,1809.8 L1742.4,1820.1 L1747.7,1825.3 L1753.0,1833.5 L1758.3,1841.8 L1763.6,1848.9 L1768.9,1853.3 L1774.2,1861.0 L1779.5,1869.7 L1784.8,1873.0 L1790.1,1882.0 L1795.4,1888.0 L1800.7,1893.6 L1806.0,1901.1 L1811.3,1907.5 L1816.6,1912.4 L1821.9,1916.0 L1827.2,1921.8 L1832.5,1929.7 L1837.8,1932.1 L1843.1,1938.3 L1848.4,1942.8 L1853.7,1948.0 L1859.0,1952.3 L1864.3,1958.3 L1869.6,1962.6 L1874.9,1966.6 L1880.2,1970.4 L1885.5,1973.4 L1890.8,1979.2 L1896.1,1980.0 L1901.4,1986.0 L1906.7,1989.4 L1912.0,1991.5 L1917.3,1995.1 L1922.6,1999.0 L1927.9,2002.8 L1933.2,2005.7 L1938.5,2009.2 L1943.8,2009.1 L1949.1,2011.8 L1954.4,2013.6 L1959.7,2017.4 L1965.0,2019.9 L1970.3,2021.8 L1975.6,2023.8 L1980.9,2027.1 L1986.2,2028.5 L1991.5,2028.6 L1996.8,2034.4 L2002.1,2035.8 L2007.4,2037.1 L2012.7,2037.0 L2018.0,2038.1 L2023.3,2041.1 L2028.6,2041.5 L2033.9,2043.6 L2039.2,2044.6 L2044.5,2046.7 L2049.8,2047.4 L2055.1,2048.5 L2060.4,2048.4 L2065.7,2048.3 L2071.0,2053.5 L2076.3,2052.0 L2081.6,2053.5 L2086.9,2053.3 L2092.2,2054.1 L2097.5,2055.1 L2102.8,2055.9 L2108.1,2058.4 L2113.4,2059.8 L2118.7,2057.0 L2124.0,2058.1 L2129.3,2060.9 L2134.6,2059.1 L2139.9,2060.3 L2145.2,2064.0 L2150.5,2061.1 L2155.8,2063.4 L2161.1,2061.7 L2166.4,2064.0 L2171.7,2064.4 L2177.0,2065.6 L2182.3,2064.6 L2187.6,2063.7 L2192.9,2065.8 L2198.2,2067.3 L2203.5,2063.5 L2208.8,2064.1 L2214.1,2065.5 L2219.4,2067.0 L2224.7,2068.0 L2230.0,2068.6 L2235.3,2066.6 L2240.6,2066.0 L2245.9,2068.7 L2251.2,2067.8 L2256.5,2068.3 L2261.8,2068.4 L2267.1,2067.8 L2272.4,2066.3 L2277.7,2069.3 L2283.0,2067.9 L2288.3,2067.8 L2293.6,2069.4 L2298.9,2069.4 L2304.2,2070.7 L2309.5,2068.4" stroke="#999900"/>
<path d="M454.5,2030.6 L459.8,2029.7 L465.1,2027.9 L470.4,2027.7 L475.7,2026.6 L481.0,2024.6 L486.3,2021.4 L491.6,2021.7 L496.9,2019.4 L502.2,2019.9 L507.5,2018.7 L512.8,2013.0 L518.1,2013.4 L523.4,2012.6 L528.7,2009.1 L534.0,2006.2 L539.3,2006.2 L544.6,2003.0 L549.9,1999.3 L555.2,1997.8 L560.5,1993.3 L565.8,1990.2 L571.1,1987.7 L576.4,1985.5 L581.7,1981.8 L587.0,1978.9 L592.3,1974.8 L597.6,1970.6 L602.9,1967.3 L608.2,1962.0 L613.5,1956.1 L618.8,1954.9 L624.1,1949.4 L629.4,1944.2 L634.7,1939.5 L640.0,1935.3 L645.3,1930.3 L650.6,1923.3 L655.9,1918.1 L661.2,1912.4 L666.5,1907.7 L671.8,1900.0 L677.1,1893.4 L682.4,1887.8 L687.7,1880.2 L693.0,1871.6 L698.3,1868.6 L703.6,1858.6 L708.9,1852.8 L714.2,1845.2 L719.5,1836.0 L724.8,1827.0 L730.1,1819.0 L735.4,1811.6 L740.7,1803.1 L746.0,1793.1 L751.3,1783.3 L756.6,1774.7 L761.9,1765.8 L767.2,1752.6 L772.5,1745.2 L777.8,1734.3 L783.1,1724.3 L788.4,1713.8 L793.7,1702.3 L799.0,1691.8 L804.3,1679.7 L809.6,1670.3 L814.9,1659.2 L820.2,1644.1 L825.5,1634.4 L830.8,1621.7 L836.1,1609.3 L841.4,1597.8 L846.7,1586.1 L852.0,1575.4 L857.3,1563.0 L862.6,1547.8 L867.9,1535.4 L873.2,1522.8 L878.5,1512.3 L883.8,1500.0 L889.1,1486.0 L894.4,1473.2 L899.7,1458.8 L902.4,1453.5 L905.0,1444.3 L907.6,1427.7 L910.3,1456.6 L913.0,1425.6 L915.6,1419.6 L918.2,1414.4 L920.9,1406.1 L926.2,1392.0 L931.5,1382.3 L936.8,1368.4 L942.1,1356.4 L947.4,1344.5 L952.7,1329.1 L958.0,1316.4 L963.3,1303.5 L968.6,1291.6 L973.9,1281.8 L979.2,1267.6 L984.5,1256.2 L989.8,1244.8 L995.1,1232.9 L1000.4,1219.4 L1005.7,1209.0 L1011.0,1195.4 L1016.3,1185.9 L1021.6,1177.5 L1026.9,1164.0 L1032.2,1153.2 L1037.5,1144.3 L1042.8,1135.6 L1048.1,1122.8 L1053.4,1116.5 L1058.7,1106.0 L1064.0,1098.9 L1069.3,1089.6 L1074.6,1081.7 L1079.9,1070.7 L1085.2,1062.7 L1090.5,1056.8 L1095.8,1050.5 L1101.1,1042.3 L1106.4,1035.1 L1111.7,1030.8 L1117.0,1024.3 L1122.3,1017.5 L1127.6,1011.3 L1132.9,1006.8 L1138.2,1001.6 L1143.5,998.8 L1148.8,995.9 L1154.1,989.1 L1159.4,986.8 L1164.7,982.7 L1170.0,980.0 L1175.3,976.4 L1180.6,975.3 L1185.9,970.8 L1191.2,970.5 L1196.5,968.4 L1201.8,966.9 L1207.1,965.4 L1212.4,965.3 L1217.7,966.9 L1223.0,965.3 L1228.3,962.5 L1233.6,963.9 L1238.9,963.9 L1244.2,964.2 L1249.5,965.7 L1254.8,966.2 L1260.1,966.9 L1265.4,965.8 L1270.7,967.7 L1276.0,967.6 L1281.3,970.4 L1286.6,970.7 L1291.9,974.2 L1297.2,978.2 L1302.5,977.7 L1307.8,981.9 L1313.1,984.0 L1318.4,988.3 L1323.7,992.4 L1329.0,995.8 L1334.3,1001.2 L1339.6,1005.7 L1344.9,1010.0 L1350.2,1014.5 L1355.5,1020.6 L1360.8,1024.8 L1366.1,1030.1 L1371.4,1034.4 L1376.7,1040.9 L1382.0,1049.4 L1387.3,1055.3 L1392.6,1063.5 L1397.9,1070.3 L1403.2,1078.3 L1408.5,1086.7 L1413.8,1094.2 L1419.1,1104.2 L1424.4,1110.9 L1429.7,1120.5 L1435.0,1130.4 L1440.3,1139.0 L1445.6,1147.5 L1450.9,1158.6 L1456.2,1167.3 L1461.5,1177.4 L1466.8,1186.7 L1472.1,1200.0 L1477.4,1209.7 L1482.7,1219.9 L1488.0,1229.9 L1493.3,1242.4 L1498.6,1253.2 L1503.9,1267.0 L1509.2,1277.7 L1514.5,1287.1 L1519.8,1301.0 L1525.1,1310.4 L1530.4,1325.4 L1535.7,1337.1 L1541.0,1350.7 L1546.3,1360.6 L1551.6,1373.3 L1556.9,1383.9 L1562.2,1398.2 L1567.5,1411.1 L1572.8,1424.8 L1578.1,1435.9 L1583.4,1447.3 L1588.7,1460.0 L1594.0,1471.9 L1599.3,1484.8 L1604.6,1498.1 L1609.9,1509.8 L1615.2,1522.6 L1620.5,1536.5 L1625.8,1545.5 L1631.1,1559.1 L1636.4,1572.6 L1641.7,1583.1 L1647.0,1595.1 L1652.3,1606.2 L1657.6,1617.4 L1662.9,1633.7 L1668.2,1641.4 L1673.5,1651.8 L1678.8,1665.6 L1684.1,1677.6 L1689.4,1686.3 L1694.7,1697.1 L1700.0,1707.8 L1705.3,1719.8 L1710.6,1729.5 L1715.9,1739.0 L1721.2,1748.5 L1726.5,1756.8 L1731.8,1768.5 L1737.1,1779.0 L1742.4,1790.2 L1747.7,1795.8 L1753.0,1806.1 L1758.3,1814.9 L1763.6,1824.5 L1768.9,1831.1 L1774.2,1842.1 L1779.5,1848.2 L1784.8,1856.1 L1790.1,1863.6 L1795.4,1870.1 L1800.7,1879.0 L1806.0,1886.0 L1811.3,1892.2 L1816.6,1901.5 L1821.9,1906.8 L1827.2,1912.9 L1832.5,1918.3 L1837.8,1926.2 L1843.1,1930.5 L1848.4,1936.7 L1853.7,1944.3 L1859.0,1949.7 L1864.3,1954.9 L1869.6,1958.3 L1874.9,1963.2 L1880.2,1967.4 L1885.5,1972.0 L1890.8,1977.9 L1896.1,1980.5 L1901.4,1984.9 L1906.7,1989.3 L1912.0,1993.2 L1917.3,1998.8 L1922.6,2000.6 L1927.9,2005.6 L1933.2,2009.1 L1938.5,2011.4 L1943.8,2014.0 L1949.1,2017.2 L1954.4,2020.4 L1959.7,2023.8 L1965.0,2025.2 L1970.3,2028.7 L1975.6,2031.8 L1980.9,2032.6 L1986.2,2033.4 L1991.5,2037.5 L1996.8,2040.2 L2002.1,2039.6 L2007.4,2041.1 L2012.7,2045.0 L2018.0,2046.7 L2023.3,2047.8 L2028.6,2046.5 L2033.9,2051.0 L2039.2,2051.5 L2044.5,2053.4 L2049.8,2057.1 L2055.1,2057.6 L2060.4,2058.9 L2065.7,2058.2 L2071.0,2059.7 L2076.3,2058.9 L2081.6,2062.0 L2086.9,2062.3 L2092.2,2063.5 L2097.5,2064.2 L2102.8,2062.7 L2108.1,2065.6 L2113.4,2065.1 L2118.7,2065.9 L2124.0,2068.6 L2129.3,2067.8 L2134.6,2069.5 L2139.9,2069.6 L2145.2,2070.1 L2150.5,2070.7 L2155.8,2071.7 L2161.1,2070.0 L2166.4,2072.4 L2171.7,2071.7 L2177.0,2071.1 L2182.3,2072.6 L2187.6,2072.5 L2192.9,2072.5 L2198.2,2073.1 L2203.5,2072.7 L2208.8,2076.4 L2214.1,2073.1 L2219.4,2075.4 L2224.7,2077.5 L2230.0,2076.6 L2235.3,2077.6 L2240.6,2076.4 L2245.9,2078.1 L2251.2,2077.8 L2256.5,2076.7 L2261.8,2077.0 L2267.1,2078.2 L2272.4,2077.8 L2277.7,2077.8 L2283.0,2077.8 L2288.3,2078.0 L2293.6,2078.4 L2298.9,2077.4 L2304.2,2080.2 L2309.5,2079.1" stroke="#1a6db8"/>
<path d="M454.5,1975.5 L459.8,1974.5 L465.1,1973.1 L470.4,1971.3 L475.7,1968.8 L481.0,1965.9 L486.3,1965.4 L491.6,1963.5 L496.9,1960.7 L502.2,1959.0 L507.5,1958.5 L512.8,1953.7 L518.1,1951.8 L523.4,1949.3 L528.7,1945.2 L534.0,1942.9 L539.3,1940.5 L544.6,1939.0 L549.9,1935.2 L555.2,1929.9 L560.5,1926.5 L565.8,1922.1 L571.1,1918.5 L576.4,1915.2 L581.7,1911.9 L587.0,1907.4 L592.3,1901.9 L597.6,1898.3 L602.9,1891.5 L608.2,1888.8 L613.5,1884.1 L618.8,1877.1 L624.1,1873.3 L629.4,1864.1 L634.7,1861.1 L640.0,1854.1 L645.3,1848.1 L650.6,1842.4 L655.9,1836.9 L661.2,1830.2 L666.5,1820.5 L671.8,1813.2 L677.1,1804.7 L682.4,1801.1 L687.7,1791.4 L693.0,1784.2 L698.3,1775.2 L703.6,1768.5 L708.9,1758.8 L714.2,1750.1 L719.5,1741.7 L724.8,1731.8 L730.1,1724.5 L735.4,1713.4 L740.7,1706.3 L746.0,1694.2 L751.3,1689.1 L756.6,1676.2 L761.9,1667.0 L767.2,1655.8 L772.5,1644.3 L777.8,1634.1 L783.1,1624.0 L788.4,1611.4 L793.7,1603.8 L799.0,1591.9 L804.3,1578.2 L809.6,1568.0 L814.9,1559.1 L820.2,1544.9 L825.5,1534.8 L830.8,1520.1 L836.1,1508.6 L841.4,1498.4 L846.7,1484.4 L852.0,1474.5 L857.3,1460.4 L862.6,1448.5 L867.9,1437.0 L873.2,1426.0 L878.5,1412.4 L883.8,1402.2 L889.1,1388.0 L894.4,1376.9 L899.7,1361.3 L902.4,1357.4 L905.0,1352.8 L907.6,1338.1 L910.3,1347.3 L913.0,1332.2 L915.6,1323.2 L918.2,1318.5 L920.9,1313.1 L926.2,1301.6 L931.5,1291.9 L936.8,1276.2 L942.1,1263.6 L947.4,1253.3 L952.7,1242.3 L958.0,1229.1 L963.3,1219.2 L968.6,1205.9 L973.9,1193.7 L979.2,1181.7 L984.5,1171.9 L989.8,1161.0 L995.1,1149.7 L1000.4,1138.4 L1005.7,1129.8 L1011.0,1120.5 L1016.3,1110.0 L1021.6,1100.6 L1026.9,1090.6 L1032.2,1080.4 L1037.5,1070.7 L1042.8,1061.9 L1048.1,1053.2 L1053.4,1045.2 L1058.7,1036.1 L1064.0,1027.6 L1069.3,1019.9 L1074.6,1011.7 L1079.9,1006.3 L1085.2,999.3 L1090.5,990.5 L1095.8,985.7 L1101.1,979.3 L1106.4,974.2 L1111.7,967.2 L1117.0,963.3 L1122.3,958.9 L1127.6,953.1 L1132.9,949.0 L1138.2,943.4 L1143.5,940.7 L1148.8,936.5 L1154.1,933.5 L1159.4,929.8 L1164.7,928.0 L1170.0,923.5 L1175.3,923.9 L1180.6,920.7 L1185.9,919.2 L1191.2,916.2 L1196.5,915.5 L1201.8,913.9 L1207.1,913.9 L1212.4,913.6 L1217.7,913.6 L1223.0,912.5 L1228.3,912.6 L1233.6,911.7 L1238.9,911.8 L1244.2,911.3 L1249.5,912.8 L1254.8,914.0 L1260.1,915.0 L1265.4,914.6 L1270.7,915.3 L1276.0,914.7 L1281.3,918.0 L1286.6,917.9 L1291.9,919.5 L1297.2,924.6 L1302.5,924.4 L1307.8,926.9 L1313.1,929.3 L1318.4,933.7 L1323.7,935.7 L1329.0,940.6 L1334.3,943.7 L1339.6,947.4 L1344.9,949.6 L1350.2,956.0 L1355.5,959.3 L1360.8,965.0 L1366.1,970.8 L1371.4,975.1 L1376.7,980.1 L1382.0,987.3 L1387.3,991.8 L1392.6,999.4 L1397.9,1006.0 L1403.2,1011.5 L1408.5,1018.9 L1413.8,1026.8 L1419.1,1034.8 L1424.4,1040.6 L1429.7,1048.2 L1435.0,1056.9 L1440.3,1064.4 L1445.6,1074.7 L1450.9,1081.2 L1456.2,1090.0 L1461.5,1099.1 L1466.8,1109.3 L1472.1,1117.9 L1477.4,1127.4 L1482.7,1136.1 L1488.0,1146.8 L1493.3,1156.8 L1498.6,1168.0 L1503.9,1176.7 L1509.2,1186.8 L1514.5,1199.2 L1519.8,1208.7 L1525.1,1219.9 L1530.4,1231.2 L1535.7,1243.6 L1541.0,1251.5 L1546.3,1266.6 L1551.6,1275.7 L1556.9,1287.8 L1562.2,1297.7 L1567.5,1310.9 L1572.8,1322.0 L1578.1,1333.1 L1583.4,1344.9 L1588.7,1357.7 L1594.0,1368.2 L1599.3,1380.3 L1604.6,1391.4 L1609.9,1404.8 L1615.2,1416.1 L1620.5,1428.3 L1625.8,1440.5 L1631.1,1451.1 L1636.4,1462.7 L1641.7,1473.3 L1647.0,1486.8 L1652.3,1497.6 L1657.6,1508.4 L1662.9,1521.2 L1668.2,1532.4 L1673.5,1543.7 L1678.8,1555.8 L1684.1,1567.3 L1689.4,1576.2 L1694.7,1588.2 L1700.0,1599.4 L1705.3,1611.4 L1710.6,1620.7 L1715.9,1630.2 L1721.2,1643.1 L1726.5,1653.2 L1731.8,1661.3 L1737.1,1671.0 L1742.4,1680.9 L1747.7,1692.9 L1753.0,1701.4 L1758.3,1712.4 L1763.6,1720.5 L1768.9,1730.7 L1774.2,1739.2 L1779.5,1747.0 L1784.8,1756.9 L1790.1,1766.2 L1795.4,1774.4 L1800.7,1782.5 L1806.0,1791.5 L1811.3,1798.8 L1816.6,1806.3 L1821.9,1813.0 L1827.2,1824.4 L1832.5,1830.9 L1837.8,1838.2 L1843.1,1843.1 L1848.4,1848.3 L1853.7,1857.5 L1859.0,1864.2 L1864.3,1869.6 L1869.6,1879.6 L1874.9,1883.4 L1880.2,1892.5 L1885.5,1894.9 L1890.8,1901.3 L1896.1,1906.8 L1901.4,1911.3 L1906.7,1917.5 L1912.0,1920.8 L1917.3,1926.9 L1922.6,1931.4 L1927.9,1933.7 L1933.2,1941.4 L1938.5,1944.4 L1943.8,1950.5 L1949.1,1952.4 L1954.4,1956.7 L1959.7,1961.5 L1965.0,1964.3 L1970.3,1967.3 L1975.6,1971.1 L1980.9,1975.9 L1986.2,1979.3 L1991.5,1981.2 L1996.8,1987.0 L2002.1,1989.0 L2007.4,1990.7 L2012.7,1993.4 L2018.0,1994.7 L2023.3,1997.4 L2028.6,2001.3 L2033.9,2003.6 L2039.2,2007.7 L2044.5,2008.7 L2049.8,2010.4 L2055.1,2012.9 L2060.4,2014.6 L2065.7,2015.9 L2071.0,2019.3 L2076.3,2020.7 L2081.6,2023.6 L2086.9,2022.1 L2092.2,2026.0 L2097.5,2028.2 L2102.8,2027.0 L2108.1,2029.4 L2113.4,2029.4 L2118.7,2032.1 L2124.0,2030.7 L2129.3,2033.3 L2134.6,2035.0 L2139.9,2036.1 L2145.2,2037.4 L2150.5,2037.3 L2155.8,2037.0 L2161.1,2040.4 L2166.4,2042.0 L2171.7,2041.0 L2177.0,2041.3 L2182.3,2044.7 L2187.6,2044.6 L2192.9,2045.6 L2198.2,2044.6 L2203.5,2045.3 L2208.8,2047.2 L2214.1,2048.2 L2219.4,2046.9 L2224.7,2050.3 L2230.0,2047.9 L2235.3,2049.3 L2240.6,2047.6 L2245.9,2049.0 L2251.2,2051.1 L2256.5,2051.2 L2261.8,2051.6 L2267.1,2052.4 L2272.4,2052.0 L2277.7,2051.4 L2283.0,2054.3 L2288.3,2053.3 L2293.6,2051.8 L2298.9,2052.9 L2304.2,2054.9 L2309.5,2055.2" stroke="#0e9e98"/>
<path d="M454.5,1944.9 L459.8,1945.4 L465.1,1942.2 L470.4,1942.8 L475.7,1942.9 L481.0,1943.0 L486.3,1941.0 L491.6,1940.2 L496.9,1936.9 L502.2,1938.1 L507.5,1936.3 L512.8,1934.2 L518.1,1933.4 L523.4,1933.0 L528.7,1933.7 L534.0,1928.4 L539.3,1927.5 L544.6,1926.6 L549.9,1924.1 L555.2,1922.8 L560.5,1920.4 L565.8,1918.5 L571.1,1913.9 L576.4,1911.2 L581.7,1908.8 L587.0,1905.3 L592.3,1902.7 L597.6,1900.1 L602.9,1897.8 L608.2,1892.7 L613.5,1888.2 L618.8,1884.8 L624.1,1880.0 L629.4,1877.6 L634.7,1873.8 L640.0,1867.1 L645.3,1864.4 L650.6,1858.8 L655.9,1854.2 L661.2,1848.7 L666.5,1843.6 L671.8,1838.1 L677.1,1833.3 L682.4,1823.1 L687.7,1818.3 L693.0,1813.5 L698.3,1805.2 L703.6,1797.8 L708.9,1789.3 L714.2,1782.6 L719.5,1770.3 L724.8,1760.0 L730.1,1752.5 L735.4,1741.8 L740.7,1732.2 L746.0,1724.1 L751.3,1711.3 L756.6,1703.7 L761.9,1691.5 L767.2,1679.9 L772.5,1666.3 L777.8,1654.7 L783.1,1641.5 L788.4,1628.3 L793.7,1613.0 L799.0,1598.6 L804.3,1583.5 L809.6,1568.5 L814.9,1554.3 L820.2,1540.0 L825.5,1525.3 L830.8,1509.2 L836.1,1497.4 L841.4,1485.1 L846.7,1471.0 L852.0,1459.4 L857.3,1449.0 L862.6,1438.4 L867.9,1428.0 L873.2,1415.4 L878.5,1406.3 L883.8,1394.2 L889.1,1385.6 L894.4,1374.2 L899.7,1363.3 L902.4,1358.3 L905.0,1353.0 L907.6,1344.3 L910.3,1351.1 L913.0,1339.8 L915.6,1334.1 L918.2,1327.4 L920.9,1324.8 L926.2,1316.3 L931.5,1306.5 L936.8,1295.5 L942.1,1283.3 L947.4,1273.0 L952.7,1256.8 L958.0,1240.4 L963.3,1225.4 L968.6,1213.0 L973.9,1199.9 L979.2,1188.7 L984.5,1176.0 L989.8,1167.6 L995.1,1154.1 L1000.4,1144.3 L1005.7,1134.7 L1011.0,1124.2 L1016.3,1115.8 L1021.6,1109.1 L1026.9,1098.2 L1032.2,1088.9 L1037.5,1081.4 L1042.8,1073.3 L1048.1,1063.4 L1053.4,1055.3 L1058.7,1048.6 L1064.0,1041.0 L1069.3,1034.3 L1074.6,1027.7 L1079.9,1020.9 L1085.2,1013.6 L1090.5,1010.5 L1095.8,1003.3 L1101.1,995.6 L1106.4,991.4 L1111.7,986.1 L1117.0,980.2 L1122.3,977.1 L1127.6,972.5 L1132.9,968.4 L1138.2,963.8 L1143.5,957.9 L1148.8,953.5 L1154.1,951.2 L1159.4,948.2 L1164.7,944.0 L1170.0,940.5 L1175.3,937.7 L1180.6,936.8 L1185.9,932.3 L1191.2,931.3 L1196.5,925.6 L1201.8,924.0 L1207.1,921.3 L1212.4,916.7 L1217.7,914.9 L1223.0,914.0 L1228.3,912.9 L1233.6,912.0 L1238.9,912.1 L1244.2,911.4 L1249.5,909.6 L1254.8,913.0 L1260.1,913.6 L1265.4,913.8 L1270.7,914.4 L1276.0,916.0 L1281.3,919.6 L1286.6,920.7 L1291.9,922.9 L1297.2,926.2 L1302.5,927.2 L1307.8,930.2 L1313.1,931.3 L1318.4,934.3 L1323.7,938.2 L1329.0,939.8 L1334.3,943.0 L1339.6,946.3 L1344.9,949.5 L1350.2,951.5 L1355.5,956.9 L1360.8,962.4 L1366.1,965.8 L1371.4,968.8 L1376.7,972.2 L1382.0,980.7 L1387.3,985.2 L1392.6,990.7 L1397.9,997.5 L1403.2,1001.6 L1408.5,1008.1 L1413.8,1014.0 L1419.1,1018.4 L1424.4,1027.7 L1429.7,1033.9 L1435.0,1041.8 L1440.3,1051.8 L1445.6,1060.8 L1450.9,1068.2 L1456.2,1079.1 L1461.5,1090.2 L1466.8,1102.4 L1472.1,1111.7 L1477.4,1123.7 L1482.7,1134.5 L1488.0,1149.4 L1493.3,1165.4 L1498.6,1182.2 L1503.9,1199.1 L1509.2,1216.6 L1514.5,1232.3 L1519.8,1248.4 L1525.1,1263.2 L1530.4,1276.6 L1535.7,1290.4 L1541.0,1303.8 L1546.3,1314.4 L1551.6,1325.5 L1556.9,1339.7 L1562.2,1350.1 L1567.5,1362.0 L1572.8,1374.3 L1578.1,1386.8 L1583.4,1400.0 L1588.7,1412.6 L1594.0,1423.4 L1599.3,1436.1 L1604.6,1452.0 L1609.9,1465.9 L1615.2,1475.7 L1620.5,1489.9 L1625.8,1502.8 L1631.1,1516.8 L1636.4,1527.4 L1641.7,1540.1 L1647.0,1552.4 L1652.3,1562.5 L1657.6,1572.3 L1662.9,1584.4 L1668.2,1595.7 L1673.5,1608.1 L1678.8,1617.7 L1684.1,1629.0 L1689.4,1638.1 L1694.7,1649.0 L1700.0,1659.7 L1705.3,1669.0 L1710.6,1680.1 L1715.9,1688.1 L1721.2,1697.0 L1726.5,1708.5 L1731.8,1717.0 L1737.1,1728.8 L1742.4,1735.4 L1747.7,1744.7 L1753.0,1755.7 L1758.3,1761.7 L1763.6,1772.0 L1768.9,1782.2 L1774.2,1789.9 L1779.5,1795.3 L1784.8,1803.9 L1790.1,1809.6 L1795.4,1819.1 L1800.7,1824.3 L1806.0,1829.6 L1811.3,1837.7 L1816.6,1842.6 L1821.9,1849.9 L1827.2,1855.5 L1832.5,1861.9 L1837.8,1866.5 L1843.1,1876.7 L1848.4,1881.2 L1853.7,1887.2 L1859.0,1896.2 L1864.3,1901.3 L1869.6,1905.0 L1874.9,1912.1 L1880.2,1921.7 L1885.5,1924.1 L1890.8,1930.8 L1896.1,1933.6 L1901.4,1939.5 L1906.7,1943.9 L1912.0,1948.7 L1917.3,1951.9 L1922.6,1956.8 L1927.9,1961.4 L1933.2,1964.7 L1938.5,1967.9 L1943.8,1972.9 L1949.1,1974.5 L1954.4,1980.9 L1959.7,1982.1 L1965.0,1986.1 L1970.3,1987.1 L1975.6,1992.3 L1980.9,1995.1 L1986.2,1998.5 L1991.5,1997.6 L1996.8,2001.6 L2002.1,2005.9 L2007.4,2007.6 L2012.7,2010.8 L2018.0,2010.7 L2023.3,2014.4 L2028.6,2019.4 L2033.9,2019.5 L2039.2,2021.1 L2044.5,2024.3 L2049.8,2026.1 L2055.1,2028.8 L2060.4,2030.5 L2065.7,2032.5 L2071.0,2035.4 L2076.3,2036.3 L2081.6,2038.3 L2086.9,2040.3 L2092.2,2042.6 L2097.5,2044.6 L2102.8,2044.8 L2108.1,2045.7 L2113.4,2050.5 L2118.7,2049.9 L2124.0,2049.3 L2129.3,2051.0 L2134.6,2053.9 L2139.9,2053.0 L2145.2,2056.5 L2150.5,2057.5 L2155.8,2055.8 L2161.1,2059.3 L2166.4,2060.1 L2171.7,2062.6 L2177.0,2062.9 L2182.3,2064.0 L2187.6,2063.7 L2192.9,2066.3 L2198.2,2064.2 L2203.5,2066.5 L2208.8,2067.5 L2214.1,2068.3 L2219.4,2067.5 L2224.7,2067.2 L2230.0,2069.6 L2235.3,2067.9 L2240.6,2068.2 L2245.9,2068.8 L2251.2,2070.2 L2256.5,2072.3 L2261.8,2070.3 L2267.1,2071.7 L2272.4,2071.3 L2277.7,2073.6 L2283.0,2072.1 L2288.3,2071.8 L2293.6,2073.1 L2298.9,2071.9 L2304.2,2070.5 L2309.5,2072.0" stroke="#b8781e"/>
</g>
<g stroke="#000" stroke-width="9" fill="none" stroke-linecap="square">
<path d="M402.5,694.5 H2362.6 V2136.8 H402.5 Z"/>
</g>
<path d="M402.5,2086.2 h-34 M402.5,1959.7 h-19.5 M402.5,1833.2 h-34 M402.5,1706.6 h-19.5 M402.5,1580.1 h-34 M402.5,1453.6 h-19.5 M402.5,1327.1 h-34 M402.5,1200.6 h-19.5 M402.5,1074.0 h-34 M402.5,947.5 h-19.5 M402.5,821.0 h-34 M402.5,694.5 h-19.5 M454.5,2136.8 v19 M719.5,2136.8 v34 M984.5,2136.8 v19 M1249.5,2136.8 v34 M1514.5,2136.8 v19 M1779.5,2136.8 v34 M2044.5,2136.8 v19 M2309.5,2136.8 v34" stroke="#000" stroke-width="9" fill="none"/>
<g font-family="'Liberation Serif', serif" font-weight="bold" font-size="100" fill="#000">
<text x="342.1" y="2108.5" font-size="100" font-weight="bold" text-anchor="end" letter-spacing="-5">0.0</text>
<text x="342.1" y="1855.5" font-size="100" font-weight="bold" text-anchor="end" letter-spacing="-5">0.1</text>
<text x="342.1" y="1602.4" font-size="100" font-weight="bold" text-anchor="end" letter-spacing="-5">0.2</text>
<text x="342.1" y="1349.4" font-size="100" font-weight="bold" text-anchor="end" letter-spacing="-5">0.3</text>
<text x="342.1" y="1096.3" font-size="100" font-weight="bold" text-anchor="end" letter-spacing="-5">0.4</text>
<text x="342.1" y="843.3" font-size="100" font-weight="bold" text-anchor="end" letter-spacing="-5">0.5</text>
<text x="712.5" y="2250.5" font-size="100" font-weight="bold" text-anchor="middle" letter-spacing="-5">500</text>
<text x="1242.5" y="2250.5" font-size="100" font-weight="bold" text-anchor="middle" letter-spacing="-5">600</text>
<text x="1772.5" y="2250.5" font-size="100" font-weight="bold" text-anchor="middle" letter-spacing="-5">700</text>
<text x="2302.5" y="2250.5" font-size="100" font-weight="bold" text-anchor="middle" letter-spacing="-5">800</text>
</g>
<g font-family="'Liberation Serif', serif" font-weight="bold" fill="#000">
<text x="802.3" y="2390" font-size="166" font-weight="bold" letter-spacing="-10.43">Wavelength</text>
<text x="1590.1" y="2390" font-size="166" font-weight="bold" letter-spacing="0"><tspan font-size="157">(</tspan>nm<tspan font-size="157">)</tspan></text>
<text transform="translate(165.5,1928.8) rotate(-90)" x="0" y="0" font-size="166" letter-spacing="-10.6">Absorbance</text>
<text transform="translate(165.5,1149.7) rotate(-90)" x="0" y="0" font-size="166" letter-spacing="-5.8"><tspan font-size="157">(</tspan>a.u.<tspan font-size="157">)</tspan></text>
</g>
<g font-family="'Liberation Serif', serif" font-weight="bold" font-size="124" fill="#000">
<text x="2121.5" y="905" font-size="124" font-weight="bold" text-anchor="middle">m</text>
<text x="2126" y="1322" font-size="124" font-weight="bold" text-anchor="middle">a</text>
</g>
<path d="M2118,1240 V996" stroke="#000" stroke-width="9"/>
<path d="M2118,922.8 L2138,998.6 L2098,998.6 Z" fill="#000"/>
<path d="M514.5,3995.3 L1749.4,2884.2" stroke="#ff0000" stroke-width="8" stroke-linecap="round"/>
<g fill="#000"><circle cx="513.0" cy="4060.5" r="17.8"/><circle cx="514.5" cy="4012.8" r="17.8"/><circle cx="560.8" cy="3955.5" r="17.8"/><path d="M560.8,3946.5 V3964.5 M541.0,3946.5 h39.4 M541.0,3964.5 h39.4" stroke="#000" stroke-width="9.5"/><circle cx="607.0" cy="3897.4" r="17.8"/><path d="M607.0,3887.4 V3907.4 M587.3,3887.4 h39.4 M587.3,3907.4 h39.4" stroke="#000" stroke-width="9.5"/><circle cx="653.2" cy="3875.8" r="17.8"/><path d="M653.2,3866.8 V3884.8 M633.5,3866.8 h39.4 M633.5,3884.8 h39.4" stroke="#000" stroke-width="9.5"/><circle cx="699.5" cy="3824.3" r="17.8"/><path d="M699.5,3814.3 V3834.3 M679.8,3814.3 h39.4 M679.8,3834.3 h39.4" stroke="#000" stroke-width="9.5"/><circle cx="745.8" cy="3789.3" r="17.8"/><path d="M745.8,3780.3 V3798.3 M726.0,3780.3 h39.4 M726.0,3798.3 h39.4" stroke="#000" stroke-width="9.5"/><circle cx="977.0" cy="3584.0" r="17.8"/><path d="M977.0,3562.6 V3605.4 M957.3,3562.6 h39.4 M957.3,3605.4 h39.4" stroke="#000" stroke-width="9.5"/><circle cx="1208.2" cy="3333.8" r="17.8"/><path d="M1208.2,3303.2 V3364.4 M1188.5,3303.2 h39.4 M1188.5,3364.4 h39.4" stroke="#000" stroke-width="9.5"/><circle cx="1439.5" cy="3164.8" r="17.8"/><path d="M1439.5,3137.8 V3191.8 M1419.8,3137.8 h39.4 M1419.8,3191.8 h39.4" stroke="#000" stroke-width="9.5"/><circle cx="1670.8" cy="2977.5" r="17.8"/><path d="M1670.8,2937.8 V3017.2 M1651.0,2937.8 h39.4 M1651.0,3017.2 h39.4" stroke="#000" stroke-width="9.5"/><circle cx="1902.0" cy="2924.0" r="17.8"/><path d="M1902.0,2879.4 V2968.6 M1882.3,2879.4 h39.4 M1882.3,2968.6 h39.4" stroke="#000" stroke-width="9.5"/><circle cx="2133.2" cy="2915.9" r="17.8"/><path d="M2133.2,2873.7 V2958.1 M2113.6,2873.7 h39.4 M2113.6,2958.1 h39.4" stroke="#000" stroke-width="9.5"/></g>
<path d="M514.5,3995.3 L1749.4,2884.2" stroke="#ff0000" stroke-width="6" stroke-linecap="round" opacity="0.55"/>
<path d="M399.0,2696.4 H2364.0 V4141.7 H399.0 Z" stroke="#000" stroke-width="9" fill="none" stroke-linecap="square"/>
<path d="M399.0,4092.0 h-34 M399.0,3965.1 h-19.5 M399.0,3838.2 h-34 M399.0,3711.4 h-19.5 M399.0,3584.5 h-34 M399.0,3457.6 h-19.5 M399.0,3330.8 h-34 M399.0,3203.9 h-19.5 M399.0,3077.0 h-34 M399.0,2950.1 h-19.5 M399.0,2823.2 h-34 M399.0,2696.4 h-19.5 M398.9,4141.7 v18.5 M514.5,4141.7 v33.5 M630.1,4141.7 v18.5 M745.8,4141.7 v33.5 M861.4,4141.7 v18.5 M977.0,4141.7 v33.5 M1092.6,4141.7 v18.5 M1208.2,4141.7 v33.5 M1323.9,4141.7 v18.5 M1439.5,4141.7 v33.5 M1555.1,4141.7 v18.5 M1670.8,4141.7 v33.5 M1786.4,4141.7 v18.5 M1902.0,4141.7 v33.5 M2017.6,4141.7 v18.5 M2133.2,4141.7 v33.5 M2248.9,4141.7 v18.5 M2364.5,4141.7 v33.5" stroke="#000" stroke-width="9" fill="none"/>
<g font-family="'Liberation Serif', serif" font-weight="bold" font-size="100" fill="#000">
<text x="352.2" y="4115.5" font-size="100" font-weight="bold" text-anchor="end" letter-spacing="-3.7">0.0</text>
<text x="352.2" y="3861.8" font-size="100" font-weight="bold" text-anchor="end" letter-spacing="-3.7">0.1</text>
<text x="352.2" y="3608" font-size="100" font-weight="bold" text-anchor="end" letter-spacing="-3.7">0.2</text>
<text x="352.2" y="3354.2" font-size="100" font-weight="bold" text-anchor="end" letter-spacing="-3.7">0.3</text>
<text x="352.2" y="3100.5" font-size="100" font-weight="bold" text-anchor="end" letter-spacing="-3.7">0.4</text>
<text x="352.2" y="2846.8" font-size="100" font-weight="bold" text-anchor="end" letter-spacing="-3.7">0.5</text>
<text x="514" y="4257" font-size="100" font-weight="bold" text-anchor="middle" letter-spacing="-5">0</text>
<text x="745.2" y="4257" font-size="100" font-weight="bold" text-anchor="middle" letter-spacing="-5">5</text>
<text x="976.5" y="4257" font-size="100" font-weight="bold" text-anchor="middle" letter-spacing="-5">10</text>
<text x="1207.8" y="4257" font-size="100" font-weight="bold" text-anchor="middle" letter-spacing="-5">15</text>
<text x="1439" y="4257" font-size="100" font-weight="bold" text-anchor="middle" letter-spacing="-5">20</text>
<text x="1670.2" y="4257" font-size="100" font-weight="bold" text-anchor="middle" letter-spacing="-5">25</text>
<text x="1901.5" y="4257" font-size="100" font-weight="bold" text-anchor="middle" letter-spacing="-5">30</text>
<text x="2132.8" y="4257" font-size="100" font-weight="bold" text-anchor="middle" letter-spacing="-5">35</text>
<text x="2364" y="4257" font-size="100" font-weight="bold" text-anchor="middle" letter-spacing="-5">40</text>
</g>
<g font-family="'Liberation Serif', serif" font-weight="bold" fill="#000">
<text x="742.2" y="4429.5" font-size="166" font-weight="bold" letter-spacing="-10.1">Concentration</text>
<text x="1671.3" y="4429.5" font-size="166" font-weight="bold" letter-spacing="-7.7"><tspan font-size="157">(</tspan>nM<tspan font-size="157">)</tspan></text>
<text transform="translate(165.5,3965.4) rotate(-90)" x="0" y="0" font-size="166" letter-spacing="-10.6">Absorbance</text>
<text transform="translate(165.5,3183.9) rotate(-90)" x="0" y="0" font-size="166" letter-spacing="-5.8"><tspan font-size="157">(</tspan>a.u.<tspan font-size="157">)</tspan></text>
<text x="860" y="3920.7" font-size="102" font-style="italic">A</text>
<text x="929" y="3953.5" font-size="62" letter-spacing="-2">600</text>
<text x="1019.5" y="3920.7" font-size="102" letter-spacing="-1.3">(a.u.)</text>
<text x="1263.5" y="3920.7" font-size="102">=</text>
<text x="1337.4" y="3920.7" font-size="102" letter-spacing="-5.3">0.0164<tspan font-style="italic">C</tspan></text>
<text x="1678.6" y="3920.7" font-size="102" letter-spacing="-0.33">(nM)</text>
<text x="1920.3" y="3920.7" font-size="102">+</text>
<text x="1995.3" y="3920.7" font-size="102" letter-spacing="-6.26">0.0381</text>
<text x="1321.5" y="4031" font-size="102" font-style="italic">R</text>
<text x="1407" y="4031" font-size="102">=</text>
<text x="1483" y="4031" font-size="102" letter-spacing="-6.04">0.9990</text>
</g>
</svg>
</body></html>
